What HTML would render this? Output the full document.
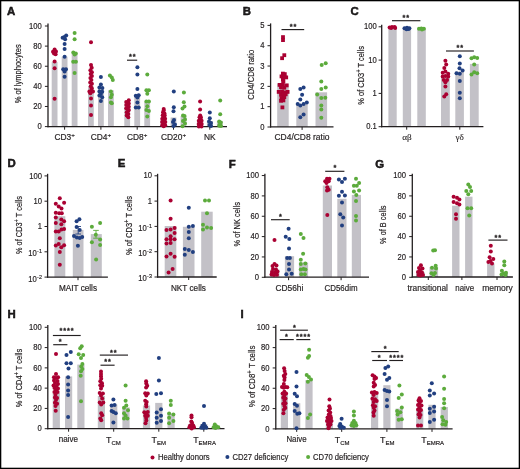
<!DOCTYPE html>
<html><head><meta charset="utf-8">
<style>
html,body{margin:0;padding:0;background:#fff;}
body{width:520px;height:469px;overflow:hidden;}
svg{display:block;will-change:transform;}
text{font-family:"Liberation Sans",sans-serif;fill:#231f20;stroke:#231f20;stroke-width:0.18px;}
</style></head>
<body>
<svg width="520" height="469" viewBox="0 0 520 469">
<rect x="0" y="0" width="520" height="469" fill="#fff"/>
<text x="7.00" y="14.90" font-size="11.4" text-anchor="start" font-weight="bold" style="stroke:#000;stroke-width:0.45px">A</text>
<line x1="48.00" y1="23.60" x2="48.00" y2="127.25" stroke="#231f20" stroke-width="1.3"/>
<line x1="44.90" y1="26.00" x2="48.00" y2="26.00" stroke="#231f20" stroke-width="1.0"/>
<text x="41.80" y="28.63" font-size="8.5" text-anchor="end" font-weight="normal" textLength="12.76" lengthAdjust="spacingAndGlyphs">100</text>
<line x1="44.90" y1="46.12" x2="48.00" y2="46.12" stroke="#231f20" stroke-width="1.0"/>
<text x="41.80" y="48.75" font-size="8.5" text-anchor="end" font-weight="normal" textLength="8.51" lengthAdjust="spacingAndGlyphs">80</text>
<line x1="44.90" y1="66.24" x2="48.00" y2="66.24" stroke="#231f20" stroke-width="1.0"/>
<text x="41.80" y="68.88" font-size="8.5" text-anchor="end" font-weight="normal" textLength="8.51" lengthAdjust="spacingAndGlyphs">60</text>
<line x1="44.90" y1="86.36" x2="48.00" y2="86.36" stroke="#231f20" stroke-width="1.0"/>
<text x="41.80" y="88.99" font-size="8.5" text-anchor="end" font-weight="normal" textLength="8.51" lengthAdjust="spacingAndGlyphs">40</text>
<line x1="44.90" y1="106.48" x2="48.00" y2="106.48" stroke="#231f20" stroke-width="1.0"/>
<text x="41.80" y="109.11" font-size="8.5" text-anchor="end" font-weight="normal" textLength="8.51" lengthAdjust="spacingAndGlyphs">20</text>
<line x1="44.90" y1="126.60" x2="48.00" y2="126.60" stroke="#231f20" stroke-width="1.0"/>
<text x="41.80" y="129.23" font-size="8.5" text-anchor="end" font-weight="normal" textLength="4.25" lengthAdjust="spacingAndGlyphs">0</text>
<text transform="translate(20.79,73.80) rotate(-90)" x="0" y="0" font-size="8.3" text-anchor="middle" textLength="59.00" lengthAdjust="spacingAndGlyphs">% of lymphocytes</text>
<rect x="51.70" y="62.00" width="5.80" height="64.70" fill="#c3c1c7"/>
<rect x="61.70" y="56.70" width="5.80" height="70.00" fill="#c3c1c7"/>
<rect x="71.70" y="53.30" width="5.80" height="73.40" fill="#c3c1c7"/>
<rect x="88.00" y="86.50" width="5.80" height="40.20" fill="#c3c1c7"/>
<rect x="98.00" y="88.00" width="5.80" height="38.70" fill="#c3c1c7"/>
<rect x="108.00" y="90.30" width="5.80" height="36.40" fill="#c3c1c7"/>
<rect x="124.30" y="107.50" width="5.80" height="19.20" fill="#c3c1c7"/>
<rect x="134.30" y="96.50" width="5.80" height="30.20" fill="#c3c1c7"/>
<rect x="144.30" y="101.50" width="5.80" height="25.20" fill="#c3c1c7"/>
<rect x="160.60" y="118.00" width="5.80" height="8.70" fill="#c3c1c7"/>
<rect x="170.60" y="117.50" width="5.80" height="9.20" fill="#c3c1c7"/>
<rect x="180.60" y="116.00" width="5.80" height="10.70" fill="#c3c1c7"/>
<rect x="196.90" y="120.50" width="5.80" height="6.20" fill="#c3c1c7"/>
<rect x="206.90" y="121.00" width="5.80" height="5.70" fill="#c3c1c7"/>
<rect x="216.90" y="121.00" width="5.80" height="5.70" fill="#c3c1c7"/>
<line x1="47.40" y1="126.70" x2="227.00" y2="126.70" stroke="#231f20" stroke-width="1.3"/>
<line x1="64.60" y1="126.70" x2="64.60" y2="129.70" stroke="#231f20" stroke-width="1.0"/>
<line x1="100.90" y1="126.70" x2="100.90" y2="129.70" stroke="#231f20" stroke-width="1.0"/>
<line x1="137.20" y1="126.70" x2="137.20" y2="129.70" stroke="#231f20" stroke-width="1.0"/>
<line x1="173.50" y1="126.70" x2="173.50" y2="129.70" stroke="#231f20" stroke-width="1.0"/>
<line x1="209.80" y1="126.70" x2="209.80" y2="129.70" stroke="#231f20" stroke-width="1.0"/>
<text x="64.60" y="140.1" font-size="8.4" text-anchor="middle">CD3<tspan dy="-3.4" font-size="6.2">+</tspan></text>
<text x="100.90" y="140.1" font-size="8.4" text-anchor="middle">CD4<tspan dy="-3.4" font-size="6.2">+</tspan></text>
<text x="137.20" y="140.1" font-size="8.4" text-anchor="middle">CD8<tspan dy="-3.4" font-size="6.2">+</tspan></text>
<text x="173.50" y="140.1" font-size="8.4" text-anchor="middle">CD20<tspan dy="-3.4" font-size="6.2">+</tspan></text>
<text x="209.80" y="140.10" font-size="8.4" text-anchor="middle" font-weight="normal">NK</text>
<line x1="127.00" y1="60.20" x2="137.20" y2="60.20" stroke="#231f20" stroke-width="1.15"/>
<text x="128.91" y="59.48" font-size="7.3" text-anchor="start" font-weight="bold" letter-spacing="0.9" style="stroke-width:0.3px">**</text>
<circle cx="54.60" cy="49.50" r="2.0" fill="#aa0132"/>
<circle cx="53.00" cy="51.80" r="2.0" fill="#aa0132"/>
<circle cx="56.00" cy="51.50" r="2.0" fill="#aa0132"/>
<circle cx="54.00" cy="53.60" r="2.0" fill="#aa0132"/>
<circle cx="55.60" cy="54.20" r="2.0" fill="#aa0132"/>
<circle cx="54.60" cy="61.60" r="2.0" fill="#aa0132"/>
<circle cx="54.60" cy="68.30" r="2.0" fill="#aa0132"/>
<circle cx="54.60" cy="98.70" r="2.0" fill="#aa0132"/>
<circle cx="66.20" cy="35.40" r="2.0" fill="#213f80"/>
<circle cx="62.60" cy="37.80" r="2.0" fill="#213f80"/>
<circle cx="65.10" cy="39.20" r="2.0" fill="#213f80"/>
<circle cx="64.40" cy="37.00" r="2.0" fill="#213f80"/>
<circle cx="64.60" cy="43.90" r="2.0" fill="#213f80"/>
<circle cx="64.60" cy="49.00" r="2.0" fill="#213f80"/>
<circle cx="64.60" cy="56.70" r="2.0" fill="#213f80"/>
<circle cx="63.20" cy="69.20" r="2.0" fill="#213f80"/>
<circle cx="66.00" cy="69.20" r="2.0" fill="#213f80"/>
<circle cx="64.60" cy="71.50" r="2.0" fill="#213f80"/>
<circle cx="64.60" cy="76.80" r="2.0" fill="#213f80"/>
<circle cx="74.60" cy="32.90" r="2.0" fill="#5cab3c"/>
<circle cx="74.60" cy="39.20" r="2.0" fill="#5cab3c"/>
<circle cx="73.30" cy="52.40" r="2.0" fill="#5cab3c"/>
<circle cx="75.80" cy="53.50" r="2.0" fill="#5cab3c"/>
<circle cx="74.60" cy="54.50" r="2.0" fill="#5cab3c"/>
<circle cx="73.20" cy="61.80" r="2.0" fill="#5cab3c"/>
<circle cx="75.90" cy="61.80" r="2.0" fill="#5cab3c"/>
<circle cx="74.60" cy="72.90" r="2.0" fill="#5cab3c"/>
<circle cx="91.00" cy="42.30" r="2.0" fill="#aa0132"/>
<circle cx="91.00" cy="65.10" r="2.0" fill="#aa0132"/>
<circle cx="91.70" cy="67.70" r="2.0" fill="#aa0132"/>
<circle cx="90.40" cy="70.30" r="2.0" fill="#aa0132"/>
<circle cx="91.90" cy="72.20" r="2.0" fill="#aa0132"/>
<circle cx="90.70" cy="74.10" r="2.0" fill="#aa0132"/>
<circle cx="91.90" cy="76.00" r="2.0" fill="#aa0132"/>
<circle cx="90.40" cy="77.90" r="2.0" fill="#aa0132"/>
<circle cx="91.40" cy="79.90" r="2.0" fill="#aa0132"/>
<circle cx="90.20" cy="82.40" r="2.0" fill="#aa0132"/>
<circle cx="91.90" cy="83.70" r="2.0" fill="#aa0132"/>
<circle cx="90.70" cy="86.30" r="2.0" fill="#aa0132"/>
<circle cx="91.70" cy="88.20" r="2.0" fill="#aa0132"/>
<circle cx="89.40" cy="91.40" r="2.0" fill="#aa0132"/>
<circle cx="91.40" cy="90.80" r="2.0" fill="#aa0132"/>
<circle cx="93.00" cy="91.40" r="2.0" fill="#aa0132"/>
<circle cx="90.40" cy="93.30" r="2.0" fill="#aa0132"/>
<circle cx="91.00" cy="98.50" r="2.0" fill="#aa0132"/>
<circle cx="91.00" cy="105.50" r="2.0" fill="#aa0132"/>
<circle cx="91.00" cy="115.10" r="2.0" fill="#aa0132"/>
<circle cx="100.90" cy="76.90" r="2.0" fill="#213f80"/>
<circle cx="100.90" cy="84.50" r="2.0" fill="#213f80"/>
<circle cx="99.40" cy="87.50" r="2.0" fill="#213f80"/>
<circle cx="102.40" cy="88.00" r="2.0" fill="#213f80"/>
<circle cx="99.40" cy="91.40" r="2.0" fill="#213f80"/>
<circle cx="102.20" cy="91.80" r="2.0" fill="#213f80"/>
<circle cx="100.90" cy="94.10" r="2.0" fill="#213f80"/>
<circle cx="99.40" cy="95.50" r="2.0" fill="#213f80"/>
<circle cx="102.20" cy="97.20" r="2.0" fill="#213f80"/>
<circle cx="100.90" cy="101.00" r="2.0" fill="#213f80"/>
<circle cx="109.90" cy="75.50" r="2.0" fill="#5cab3c"/>
<circle cx="111.80" cy="77.40" r="2.0" fill="#5cab3c"/>
<circle cx="112.80" cy="79.90" r="2.0" fill="#5cab3c"/>
<circle cx="110.90" cy="91.40" r="2.0" fill="#5cab3c"/>
<circle cx="111.80" cy="94.70" r="2.0" fill="#5cab3c"/>
<circle cx="110.90" cy="97.20" r="2.0" fill="#5cab3c"/>
<circle cx="110.90" cy="102.40" r="2.0" fill="#5cab3c"/>
<circle cx="111.80" cy="103.30" r="2.0" fill="#5cab3c"/>
<circle cx="128.80" cy="100.30" r="2.0" fill="#aa0132"/>
<circle cx="126.20" cy="101.90" r="2.0" fill="#aa0132"/>
<circle cx="128.80" cy="103.50" r="2.0" fill="#aa0132"/>
<circle cx="126.20" cy="105.10" r="2.0" fill="#aa0132"/>
<circle cx="128.80" cy="106.70" r="2.0" fill="#aa0132"/>
<circle cx="126.20" cy="108.30" r="2.0" fill="#aa0132"/>
<circle cx="128.80" cy="109.90" r="2.0" fill="#aa0132"/>
<circle cx="128.30" cy="110.50" r="2.0" fill="#aa0132"/>
<circle cx="126.70" cy="112.20" r="2.0" fill="#aa0132"/>
<circle cx="128.30" cy="113.90" r="2.0" fill="#aa0132"/>
<circle cx="126.70" cy="115.60" r="2.0" fill="#aa0132"/>
<circle cx="128.30" cy="117.30" r="2.0" fill="#aa0132"/>
<circle cx="137.40" cy="67.30" r="2.0" fill="#213f80"/>
<circle cx="137.40" cy="74.50" r="2.0" fill="#213f80"/>
<circle cx="137.40" cy="88.90" r="2.0" fill="#213f80"/>
<circle cx="135.80" cy="95.70" r="2.0" fill="#213f80"/>
<circle cx="138.70" cy="95.30" r="2.0" fill="#213f80"/>
<circle cx="137.40" cy="97.60" r="2.0" fill="#213f80"/>
<circle cx="137.40" cy="102.40" r="2.0" fill="#213f80"/>
<circle cx="135.80" cy="107.60" r="2.0" fill="#213f80"/>
<circle cx="138.70" cy="107.60" r="2.0" fill="#213f80"/>
<circle cx="147.30" cy="74.50" r="2.0" fill="#5cab3c"/>
<circle cx="146.40" cy="90.30" r="2.0" fill="#5cab3c"/>
<circle cx="148.90" cy="90.30" r="2.0" fill="#5cab3c"/>
<circle cx="147.30" cy="93.70" r="2.0" fill="#5cab3c"/>
<circle cx="146.40" cy="101.40" r="2.0" fill="#5cab3c"/>
<circle cx="148.90" cy="101.40" r="2.0" fill="#5cab3c"/>
<circle cx="147.30" cy="106.20" r="2.0" fill="#5cab3c"/>
<circle cx="146.40" cy="110.00" r="2.0" fill="#5cab3c"/>
<circle cx="148.90" cy="111.00" r="2.0" fill="#5cab3c"/>
<circle cx="147.30" cy="116.40" r="2.0" fill="#5cab3c"/>
<circle cx="163.70" cy="109.00" r="2.0" fill="#aa0132"/>
<circle cx="163.70" cy="110.60" r="2.0" fill="#aa0132"/>
<circle cx="163.00" cy="112.20" r="2.0" fill="#aa0132"/>
<circle cx="164.50" cy="113.60" r="2.0" fill="#aa0132"/>
<circle cx="162.70" cy="115.20" r="2.0" fill="#aa0132"/>
<circle cx="164.70" cy="115.50" r="2.0" fill="#aa0132"/>
<circle cx="163.70" cy="117.00" r="2.0" fill="#aa0132"/>
<circle cx="162.30" cy="118.80" r="2.0" fill="#aa0132"/>
<circle cx="165.10" cy="118.80" r="2.0" fill="#aa0132"/>
<circle cx="163.70" cy="120.30" r="2.0" fill="#aa0132"/>
<circle cx="162.10" cy="122.00" r="2.0" fill="#aa0132"/>
<circle cx="165.30" cy="122.00" r="2.0" fill="#aa0132"/>
<circle cx="163.70" cy="123.50" r="2.0" fill="#aa0132"/>
<circle cx="162.20" cy="125.20" r="2.0" fill="#aa0132"/>
<circle cx="165.20" cy="125.20" r="2.0" fill="#aa0132"/>
<circle cx="163.70" cy="126.30" r="2.0" fill="#aa0132"/>
<circle cx="173.80" cy="91.50" r="2.0" fill="#213f80"/>
<circle cx="173.80" cy="107.20" r="2.0" fill="#213f80"/>
<circle cx="173.50" cy="111.20" r="2.0" fill="#213f80"/>
<circle cx="174.00" cy="120.00" r="2.0" fill="#213f80"/>
<circle cx="173.00" cy="122.00" r="2.0" fill="#213f80"/>
<circle cx="175.00" cy="124.50" r="2.0" fill="#213f80"/>
<circle cx="173.50" cy="126.00" r="2.0" fill="#213f80"/>
<circle cx="183.90" cy="92.50" r="2.0" fill="#5cab3c"/>
<circle cx="183.80" cy="102.20" r="2.0" fill="#5cab3c"/>
<circle cx="184.50" cy="106.50" r="2.0" fill="#5cab3c"/>
<circle cx="182.50" cy="108.50" r="2.0" fill="#5cab3c"/>
<circle cx="183.00" cy="115.50" r="2.0" fill="#5cab3c"/>
<circle cx="184.50" cy="116.00" r="2.0" fill="#5cab3c"/>
<circle cx="185.00" cy="119.50" r="2.0" fill="#5cab3c"/>
<circle cx="183.00" cy="121.00" r="2.0" fill="#5cab3c"/>
<circle cx="185.00" cy="123.50" r="2.0" fill="#5cab3c"/>
<circle cx="182.50" cy="126.30" r="2.0" fill="#5cab3c"/>
<circle cx="200.10" cy="101.50" r="2.0" fill="#aa0132"/>
<circle cx="200.10" cy="109.60" r="2.0" fill="#aa0132"/>
<circle cx="200.20" cy="115.60" r="2.0" fill="#aa0132"/>
<circle cx="199.50" cy="117.20" r="2.0" fill="#aa0132"/>
<circle cx="201.00" cy="117.60" r="2.0" fill="#aa0132"/>
<circle cx="200.20" cy="119.10" r="2.0" fill="#aa0132"/>
<circle cx="198.80" cy="120.70" r="2.0" fill="#aa0132"/>
<circle cx="201.60" cy="120.70" r="2.0" fill="#aa0132"/>
<circle cx="200.20" cy="122.30" r="2.0" fill="#aa0132"/>
<circle cx="198.70" cy="124.00" r="2.0" fill="#aa0132"/>
<circle cx="201.70" cy="124.00" r="2.0" fill="#aa0132"/>
<circle cx="200.20" cy="125.30" r="2.0" fill="#aa0132"/>
<circle cx="198.90" cy="126.40" r="2.0" fill="#aa0132"/>
<circle cx="201.50" cy="126.40" r="2.0" fill="#aa0132"/>
<circle cx="209.80" cy="112.40" r="2.0" fill="#213f80"/>
<circle cx="209.80" cy="118.20" r="2.0" fill="#213f80"/>
<circle cx="209.00" cy="121.50" r="2.0" fill="#213f80"/>
<circle cx="211.00" cy="123.00" r="2.0" fill="#213f80"/>
<circle cx="209.50" cy="125.00" r="2.0" fill="#213f80"/>
<circle cx="211.00" cy="126.00" r="2.0" fill="#213f80"/>
<circle cx="220.20" cy="100.60" r="2.0" fill="#5cab3c"/>
<circle cx="220.20" cy="114.30" r="2.0" fill="#5cab3c"/>
<circle cx="219.20" cy="121.40" r="2.0" fill="#5cab3c"/>
<circle cx="220.80" cy="122.60" r="2.0" fill="#5cab3c"/>
<circle cx="219.90" cy="124.20" r="2.0" fill="#5cab3c"/>
<circle cx="219.20" cy="125.70" r="2.0" fill="#5cab3c"/>
<circle cx="221.00" cy="126.00" r="2.0" fill="#5cab3c"/>
<text x="242.70" y="14.90" font-size="11.4" text-anchor="start" font-weight="bold" style="stroke:#000;stroke-width:0.45px">B</text>
<line x1="270.60" y1="23.40" x2="270.60" y2="127.45" stroke="#231f20" stroke-width="1.3"/>
<line x1="267.50" y1="25.40" x2="270.60" y2="25.40" stroke="#231f20" stroke-width="1.0"/>
<text x="264.60" y="28.04" font-size="8.5" text-anchor="end" font-weight="normal" textLength="4.25" lengthAdjust="spacingAndGlyphs">5</text>
<line x1="267.50" y1="45.72" x2="270.60" y2="45.72" stroke="#231f20" stroke-width="1.0"/>
<text x="264.60" y="48.35" font-size="8.5" text-anchor="end" font-weight="normal" textLength="4.25" lengthAdjust="spacingAndGlyphs">4</text>
<line x1="267.50" y1="66.04" x2="270.60" y2="66.04" stroke="#231f20" stroke-width="1.0"/>
<text x="264.60" y="68.67" font-size="8.5" text-anchor="end" font-weight="normal" textLength="4.25" lengthAdjust="spacingAndGlyphs">3</text>
<line x1="267.50" y1="86.36" x2="270.60" y2="86.36" stroke="#231f20" stroke-width="1.0"/>
<text x="264.60" y="89.00" font-size="8.5" text-anchor="end" font-weight="normal" textLength="4.25" lengthAdjust="spacingAndGlyphs">2</text>
<line x1="267.50" y1="106.68" x2="270.60" y2="106.68" stroke="#231f20" stroke-width="1.0"/>
<text x="264.60" y="109.32" font-size="8.5" text-anchor="end" font-weight="normal" textLength="4.25" lengthAdjust="spacingAndGlyphs">1</text>
<line x1="267.50" y1="127.00" x2="270.60" y2="127.00" stroke="#231f20" stroke-width="1.0"/>
<text x="264.60" y="129.63" font-size="8.5" text-anchor="end" font-weight="normal" textLength="4.25" lengthAdjust="spacingAndGlyphs">0</text>
<text transform="translate(253.99,74.80) rotate(-90)" x="0" y="0" font-size="8.3" text-anchor="middle" textLength="50.00" lengthAdjust="spacingAndGlyphs">CD4/CD8 ratio</text>
<rect x="277.20" y="83.60" width="11.50" height="43.30" fill="#c3c1c7"/>
<rect x="296.30" y="104.10" width="11.40" height="22.80" fill="#c3c1c7"/>
<rect x="315.50" y="92.30" width="11.60" height="34.60" fill="#c3c1c7"/>
<line x1="270.00" y1="126.90" x2="333.50" y2="126.90" stroke="#231f20" stroke-width="1.3"/>
<line x1="302.10" y1="126.90" x2="302.10" y2="129.90" stroke="#231f20" stroke-width="1.0"/>
<text x="302.00" y="140.30" font-size="8.4" text-anchor="middle" font-weight="normal" textLength="55.00" lengthAdjust="spacingAndGlyphs">CD4/CD8 ratio</text>
<line x1="281.50" y1="29.60" x2="304.20" y2="29.60" stroke="#231f20" stroke-width="1.15"/>
<text x="289.71" y="28.78" font-size="7.3" text-anchor="start" font-weight="bold" letter-spacing="0.9" style="stroke-width:0.3px">**</text>
<rect x="281.10" y="35.20" width="3.8" height="3.8" fill="#aa0132"/>
<rect x="281.10" y="38.20" width="3.8" height="3.8" fill="#aa0132"/>
<rect x="282.40" y="53.30" width="3.8" height="3.8" fill="#aa0132"/>
<rect x="280.20" y="56.30" width="3.8" height="3.8" fill="#aa0132"/>
<rect x="281.00" y="71.70" width="3.8" height="3.8" fill="#aa0132"/>
<rect x="282.90" y="72.20" width="3.8" height="3.8" fill="#aa0132"/>
<rect x="279.60" y="74.50" width="3.8" height="3.8" fill="#aa0132"/>
<rect x="282.40" y="75.00" width="3.8" height="3.8" fill="#aa0132"/>
<rect x="284.30" y="75.50" width="3.8" height="3.8" fill="#aa0132"/>
<rect x="281.00" y="77.80" width="3.8" height="3.8" fill="#aa0132"/>
<rect x="281.50" y="79.20" width="3.8" height="3.8" fill="#aa0132"/>
<rect x="277.70" y="83.00" width="3.8" height="3.8" fill="#aa0132"/>
<rect x="281.00" y="82.50" width="3.8" height="3.8" fill="#aa0132"/>
<rect x="284.80" y="83.50" width="3.8" height="3.8" fill="#aa0132"/>
<rect x="279.10" y="85.30" width="3.8" height="3.8" fill="#aa0132"/>
<rect x="282.40" y="85.80" width="3.8" height="3.8" fill="#aa0132"/>
<rect x="276.80" y="90.00" width="3.8" height="3.8" fill="#aa0132"/>
<rect x="280.10" y="89.60" width="3.8" height="3.8" fill="#aa0132"/>
<rect x="282.40" y="90.50" width="3.8" height="3.8" fill="#aa0132"/>
<rect x="285.70" y="90.00" width="3.8" height="3.8" fill="#aa0132"/>
<rect x="279.10" y="92.80" width="3.8" height="3.8" fill="#aa0132"/>
<rect x="281.50" y="93.30" width="3.8" height="3.8" fill="#aa0132"/>
<rect x="283.80" y="92.40" width="3.8" height="3.8" fill="#aa0132"/>
<rect x="279.60" y="96.10" width="3.8" height="3.8" fill="#aa0132"/>
<rect x="282.40" y="95.20" width="3.8" height="3.8" fill="#aa0132"/>
<rect x="279.10" y="98.90" width="3.8" height="3.8" fill="#aa0132"/>
<rect x="281.50" y="98.50" width="3.8" height="3.8" fill="#aa0132"/>
<rect x="280.50" y="105.50" width="3.8" height="3.8" fill="#aa0132"/>
<circle cx="303.60" cy="87.60" r="2.0" fill="#213f80"/>
<circle cx="300.30" cy="89.00" r="2.0" fill="#213f80"/>
<circle cx="302.10" cy="94.80" r="2.0" fill="#213f80"/>
<circle cx="300.30" cy="99.60" r="2.0" fill="#213f80"/>
<circle cx="297.70" cy="104.10" r="2.0" fill="#213f80"/>
<circle cx="303.60" cy="104.10" r="2.0" fill="#213f80"/>
<circle cx="306.80" cy="102.60" r="2.0" fill="#213f80"/>
<circle cx="300.30" cy="105.40" r="2.0" fill="#213f80"/>
<circle cx="303.60" cy="114.40" r="2.0" fill="#213f80"/>
<circle cx="300.30" cy="117.20" r="2.0" fill="#213f80"/>
<circle cx="321.70" cy="65.10" r="2.0" fill="#5cab3c"/>
<circle cx="325.70" cy="63.30" r="2.0" fill="#5cab3c"/>
<circle cx="321.30" cy="81.40" r="2.0" fill="#5cab3c"/>
<circle cx="321.30" cy="89.00" r="2.0" fill="#5cab3c"/>
<circle cx="325.70" cy="87.60" r="2.0" fill="#5cab3c"/>
<circle cx="317.20" cy="94.50" r="2.0" fill="#5cab3c"/>
<circle cx="321.30" cy="98.10" r="2.0" fill="#5cab3c"/>
<circle cx="325.30" cy="97.70" r="2.0" fill="#5cab3c"/>
<circle cx="321.30" cy="105.40" r="2.0" fill="#5cab3c"/>
<circle cx="321.30" cy="109.40" r="2.0" fill="#5cab3c"/>
<circle cx="321.30" cy="117.70" r="2.0" fill="#5cab3c"/>
<text x="350.60" y="15.20" font-size="11.4" text-anchor="start" font-weight="bold" style="stroke:#000;stroke-width:0.45px">C</text>
<line x1="381.70" y1="24.80" x2="381.70" y2="127.25" stroke="#231f20" stroke-width="1.3"/>
<line x1="378.60" y1="26.80" x2="381.70" y2="26.80" stroke="#231f20" stroke-width="1.0"/>
<text x="376.80" y="29.44" font-size="8.5" text-anchor="end" font-weight="normal" textLength="12.76" lengthAdjust="spacingAndGlyphs">100</text>
<line x1="378.60" y1="60.10" x2="381.70" y2="60.10" stroke="#231f20" stroke-width="1.0"/>
<text x="376.80" y="62.74" font-size="8.5" text-anchor="end" font-weight="normal" textLength="8.51" lengthAdjust="spacingAndGlyphs">10</text>
<line x1="378.60" y1="93.40" x2="381.70" y2="93.40" stroke="#231f20" stroke-width="1.0"/>
<text x="376.80" y="96.04" font-size="8.5" text-anchor="end" font-weight="normal" textLength="4.25" lengthAdjust="spacingAndGlyphs">1</text>
<line x1="378.60" y1="126.70" x2="381.70" y2="126.70" stroke="#231f20" stroke-width="1.0"/>
<text x="376.80" y="129.34" font-size="8.5" text-anchor="end" font-weight="normal" textLength="10.63" lengthAdjust="spacingAndGlyphs">0.1</text>
<text transform="translate(363.59,75.40) rotate(-90)" x="0" y="0" font-size="8.3" text-anchor="middle" textLength="58.60" lengthAdjust="spacingAndGlyphs">% of CD3<tspan dy='-3' font-size='6.4'>+</tspan><tspan dy='3'> T cells</tspan></text>
<rect x="388.40" y="27.70" width="8.30" height="99.00" fill="#c3c1c7"/>
<rect x="402.80" y="28.20" width="8.30" height="98.50" fill="#c3c1c7"/>
<rect x="417.30" y="29.00" width="8.50" height="97.70" fill="#c3c1c7"/>
<rect x="441.00" y="77.00" width="8.80" height="49.70" fill="#c3c1c7"/>
<rect x="455.30" y="71.60" width="8.60" height="55.10" fill="#c3c1c7"/>
<rect x="469.90" y="63.90" width="8.80" height="62.80" fill="#c3c1c7"/>
<line x1="381.10" y1="126.70" x2="483.40" y2="126.70" stroke="#231f20" stroke-width="1.3"/>
<line x1="406.70" y1="126.70" x2="406.70" y2="129.70" stroke="#231f20" stroke-width="1.0"/>
<line x1="459.80" y1="126.70" x2="459.80" y2="129.70" stroke="#231f20" stroke-width="1.0"/>
<text x="406.90" y="140.20" font-size="9.2" text-anchor="middle" font-weight="normal" style="font-family:Liberation Serif,serif;stroke-width:0.1px">αβ</text>
<text x="459.60" y="140.20" font-size="9.2" text-anchor="middle" font-weight="normal" style="font-family:Liberation Serif,serif;stroke-width:0.1px">γδ</text>
<line x1="392.00" y1="20.70" x2="420.40" y2="20.70" stroke="#231f20" stroke-width="1.15"/>
<text x="402.41" y="20.18" font-size="7.3" text-anchor="start" font-weight="bold" letter-spacing="0.9" style="stroke-width:0.3px">**</text>
<line x1="446.00" y1="51.00" x2="473.90" y2="51.00" stroke="#231f20" stroke-width="1.15"/>
<text x="456.61" y="50.48" font-size="7.3" text-anchor="start" font-weight="bold" letter-spacing="0.9" style="stroke-width:0.3px">**</text>
<circle cx="389.60" cy="27.60" r="2.0" fill="#aa0132"/>
<circle cx="392.00" cy="27.00" r="2.0" fill="#aa0132"/>
<circle cx="394.60" cy="27.00" r="2.0" fill="#aa0132"/>
<circle cx="395.20" cy="27.90" r="2.0" fill="#aa0132"/>
<circle cx="391.20" cy="28.10" r="2.0" fill="#aa0132"/>
<circle cx="404.50" cy="28.20" r="2.0" fill="#213f80"/>
<circle cx="407.00" cy="27.70" r="2.0" fill="#213f80"/>
<circle cx="409.40" cy="28.30" r="2.0" fill="#213f80"/>
<circle cx="406.50" cy="29.30" r="2.0" fill="#213f80"/>
<circle cx="408.60" cy="28.90" r="2.0" fill="#213f80"/>
<circle cx="419.00" cy="28.80" r="2.0" fill="#5cab3c"/>
<circle cx="421.40" cy="28.50" r="2.0" fill="#5cab3c"/>
<circle cx="423.90" cy="28.80" r="2.0" fill="#5cab3c"/>
<circle cx="422.00" cy="29.40" r="2.0" fill="#5cab3c"/>
<circle cx="445.40" cy="60.80" r="2.0" fill="#aa0132"/>
<circle cx="446.20" cy="64.60" r="2.0" fill="#aa0132"/>
<circle cx="444.30" cy="68.00" r="2.0" fill="#aa0132"/>
<circle cx="442.70" cy="72.70" r="2.0" fill="#aa0132"/>
<circle cx="445.40" cy="71.60" r="2.0" fill="#aa0132"/>
<circle cx="448.20" cy="73.80" r="2.0" fill="#aa0132"/>
<circle cx="442.70" cy="76.60" r="2.0" fill="#aa0132"/>
<circle cx="445.40" cy="76.00" r="2.0" fill="#aa0132"/>
<circle cx="448.20" cy="76.60" r="2.0" fill="#aa0132"/>
<circle cx="443.80" cy="79.90" r="2.0" fill="#aa0132"/>
<circle cx="447.10" cy="79.90" r="2.0" fill="#aa0132"/>
<circle cx="445.40" cy="82.20" r="2.0" fill="#aa0132"/>
<circle cx="445.40" cy="86.60" r="2.0" fill="#aa0132"/>
<circle cx="446.20" cy="94.30" r="2.0" fill="#aa0132"/>
<circle cx="444.30" cy="96.60" r="2.0" fill="#aa0132"/>
<circle cx="459.80" cy="56.30" r="2.0" fill="#213f80"/>
<circle cx="459.80" cy="63.50" r="2.0" fill="#213f80"/>
<circle cx="459.50" cy="68.30" r="2.0" fill="#213f80"/>
<circle cx="462.60" cy="70.50" r="2.0" fill="#213f80"/>
<circle cx="456.50" cy="73.30" r="2.0" fill="#213f80"/>
<circle cx="459.80" cy="73.80" r="2.0" fill="#213f80"/>
<circle cx="459.80" cy="81.00" r="2.0" fill="#213f80"/>
<circle cx="459.80" cy="92.70" r="2.0" fill="#213f80"/>
<circle cx="459.80" cy="98.20" r="2.0" fill="#213f80"/>
<circle cx="471.50" cy="58.30" r="2.0" fill="#5cab3c"/>
<circle cx="474.20" cy="57.20" r="2.0" fill="#5cab3c"/>
<circle cx="477.20" cy="58.00" r="2.0" fill="#5cab3c"/>
<circle cx="474.20" cy="64.40" r="2.0" fill="#5cab3c"/>
<circle cx="471.50" cy="74.60" r="2.0" fill="#5cab3c"/>
<circle cx="474.20" cy="72.20" r="2.0" fill="#5cab3c"/>
<circle cx="477.20" cy="73.30" r="2.0" fill="#5cab3c"/>
<text x="7.45" y="167.30" font-size="11.4" text-anchor="start" font-weight="bold" style="stroke:#000;stroke-width:0.45px">D</text>
<line x1="47.60" y1="173.80" x2="47.60" y2="277.75" stroke="#231f20" stroke-width="1.3"/>
<line x1="44.50" y1="175.90" x2="47.60" y2="175.90" stroke="#231f20" stroke-width="1.0"/>
<text x="41.90" y="178.54" font-size="8.5" text-anchor="end" font-weight="normal" textLength="12.76" lengthAdjust="spacingAndGlyphs">100</text>
<line x1="44.50" y1="201.20" x2="47.60" y2="201.20" stroke="#231f20" stroke-width="1.0"/>
<text x="41.90" y="203.84" font-size="8.5" text-anchor="end" font-weight="normal" textLength="8.51" lengthAdjust="spacingAndGlyphs">10</text>
<line x1="44.50" y1="226.50" x2="47.60" y2="226.50" stroke="#231f20" stroke-width="1.0"/>
<text x="41.90" y="229.14" font-size="8.5" text-anchor="end" font-weight="normal" textLength="4.25" lengthAdjust="spacingAndGlyphs">1</text>
<line x1="44.50" y1="251.80" x2="47.60" y2="251.80" stroke="#231f20" stroke-width="1.0"/>
<text x="36.80" y="256.24" font-size="8.5" text-anchor="end" textLength="8.51" lengthAdjust="spacingAndGlyphs">10</text>
<text x="37.10" y="253.24" font-size="6.0" textLength="4.80" lengthAdjust="spacingAndGlyphs">-1</text>
<line x1="44.50" y1="277.10" x2="47.60" y2="277.10" stroke="#231f20" stroke-width="1.0"/>
<text x="36.80" y="281.54" font-size="8.5" text-anchor="end" textLength="8.51" lengthAdjust="spacingAndGlyphs">10</text>
<text x="37.10" y="278.54" font-size="6.0" textLength="4.80" lengthAdjust="spacingAndGlyphs">-2</text>
<text transform="translate(21.69,225.00) rotate(-90)" x="0" y="0" font-size="8.3" text-anchor="middle" textLength="58.00" lengthAdjust="spacingAndGlyphs">% of CD3<tspan dy='-3' font-size='6.4'>+</tspan><tspan dy='3'> T cells</tspan></text>
<rect x="54.40" y="216.20" width="10.90" height="61.00" fill="#c3c1c7"/>
<rect x="72.80" y="229.90" width="10.70" height="47.30" fill="#c3c1c7"/>
<rect x="90.80" y="234.10" width="11.00" height="43.10" fill="#c3c1c7"/>
<line x1="47.00" y1="277.20" x2="107.90" y2="277.20" stroke="#231f20" stroke-width="1.3"/>
<line x1="78.00" y1="277.20" x2="78.00" y2="280.20" stroke="#231f20" stroke-width="1.0"/>
<text x="78.00" y="290.60" font-size="8.4" text-anchor="middle" font-weight="normal" textLength="38.00" lengthAdjust="spacingAndGlyphs">MAIT cells</text>
<circle cx="59.80" cy="198.30" r="2.0" fill="#aa0132"/>
<circle cx="64.10" cy="202.80" r="2.0" fill="#aa0132"/>
<circle cx="55.80" cy="203.80" r="2.0" fill="#aa0132"/>
<circle cx="58.70" cy="206.40" r="2.0" fill="#aa0132"/>
<circle cx="61.50" cy="208.50" r="2.0" fill="#aa0132"/>
<circle cx="55.80" cy="212.80" r="2.0" fill="#aa0132"/>
<circle cx="59.20" cy="213.30" r="2.0" fill="#aa0132"/>
<circle cx="61.80" cy="213.30" r="2.0" fill="#aa0132"/>
<circle cx="55.80" cy="217.50" r="2.0" fill="#aa0132"/>
<circle cx="61.30" cy="219.40" r="2.0" fill="#aa0132"/>
<circle cx="64.10" cy="221.30" r="2.0" fill="#aa0132"/>
<circle cx="55.80" cy="223.00" r="2.0" fill="#aa0132"/>
<circle cx="61.30" cy="224.30" r="2.0" fill="#aa0132"/>
<circle cx="64.10" cy="229.00" r="2.0" fill="#aa0132"/>
<circle cx="61.50" cy="229.60" r="2.0" fill="#aa0132"/>
<circle cx="55.80" cy="231.60" r="2.0" fill="#aa0132"/>
<circle cx="58.70" cy="231.60" r="2.0" fill="#aa0132"/>
<circle cx="59.80" cy="238.30" r="2.0" fill="#aa0132"/>
<circle cx="55.80" cy="245.50" r="2.0" fill="#aa0132"/>
<circle cx="58.70" cy="244.00" r="2.0" fill="#aa0132"/>
<circle cx="61.30" cy="247.20" r="2.0" fill="#aa0132"/>
<circle cx="64.10" cy="245.20" r="2.0" fill="#aa0132"/>
<circle cx="59.80" cy="252.10" r="2.0" fill="#aa0132"/>
<circle cx="59.80" cy="264.80" r="2.0" fill="#aa0132"/>
<line x1="78.20" y1="226.50" x2="78.20" y2="234.00" stroke="#213f80" stroke-width="0.9"/>
<line x1="75.40" y1="226.50" x2="81.00" y2="226.50" stroke="#213f80" stroke-width="0.9"/>
<line x1="75.40" y1="234.00" x2="81.00" y2="234.00" stroke="#213f80" stroke-width="0.9"/>
<circle cx="79.40" cy="219.20" r="2.0" fill="#213f80"/>
<circle cx="76.60" cy="221.30" r="2.0" fill="#213f80"/>
<circle cx="76.60" cy="227.10" r="2.0" fill="#213f80"/>
<circle cx="79.70" cy="229.90" r="2.0" fill="#213f80"/>
<circle cx="74.00" cy="236.00" r="2.0" fill="#213f80"/>
<circle cx="76.90" cy="237.60" r="2.0" fill="#213f80"/>
<circle cx="79.70" cy="238.00" r="2.0" fill="#213f80"/>
<circle cx="82.20" cy="237.10" r="2.0" fill="#213f80"/>
<circle cx="77.90" cy="245.70" r="2.0" fill="#213f80"/>
<line x1="96.00" y1="230.40" x2="96.00" y2="238.20" stroke="#5cab3c" stroke-width="0.9"/>
<line x1="93.20" y1="230.40" x2="98.80" y2="230.40" stroke="#5cab3c" stroke-width="0.9"/>
<line x1="93.20" y1="238.20" x2="98.80" y2="238.20" stroke="#5cab3c" stroke-width="0.9"/>
<circle cx="100.10" cy="223.00" r="2.0" fill="#5cab3c"/>
<circle cx="91.90" cy="226.80" r="2.0" fill="#5cab3c"/>
<circle cx="95.80" cy="234.80" r="2.0" fill="#5cab3c"/>
<circle cx="100.10" cy="239.60" r="2.0" fill="#5cab3c"/>
<circle cx="91.90" cy="242.20" r="2.0" fill="#5cab3c"/>
<circle cx="100.10" cy="245.00" r="2.0" fill="#5cab3c"/>
<circle cx="96.10" cy="259.60" r="2.0" fill="#5cab3c"/>
<text x="117.70" y="167.30" font-size="11.4" text-anchor="start" font-weight="bold" style="stroke:#000;stroke-width:0.45px">E</text>
<line x1="157.60" y1="173.80" x2="157.60" y2="277.55" stroke="#231f20" stroke-width="1.3"/>
<line x1="154.50" y1="175.80" x2="157.60" y2="175.80" stroke="#231f20" stroke-width="1.0"/>
<text x="151.90" y="178.44" font-size="8.5" text-anchor="end" font-weight="normal" textLength="8.51" lengthAdjust="spacingAndGlyphs">10</text>
<line x1="154.50" y1="201.10" x2="157.60" y2="201.10" stroke="#231f20" stroke-width="1.0"/>
<text x="151.90" y="203.73" font-size="8.5" text-anchor="end" font-weight="normal" textLength="4.25" lengthAdjust="spacingAndGlyphs">1</text>
<line x1="154.50" y1="226.40" x2="157.60" y2="226.40" stroke="#231f20" stroke-width="1.0"/>
<text x="146.80" y="230.84" font-size="8.5" text-anchor="end" textLength="8.51" lengthAdjust="spacingAndGlyphs">10</text>
<text x="147.10" y="227.84" font-size="6.0" textLength="4.80" lengthAdjust="spacingAndGlyphs">-1</text>
<line x1="154.50" y1="251.70" x2="157.60" y2="251.70" stroke="#231f20" stroke-width="1.0"/>
<text x="146.80" y="256.13" font-size="8.5" text-anchor="end" textLength="8.51" lengthAdjust="spacingAndGlyphs">10</text>
<text x="147.10" y="253.13" font-size="6.0" textLength="4.80" lengthAdjust="spacingAndGlyphs">-2</text>
<line x1="154.50" y1="277.00" x2="157.60" y2="277.00" stroke="#231f20" stroke-width="1.0"/>
<text x="146.80" y="281.44" font-size="8.5" text-anchor="end" textLength="8.51" lengthAdjust="spacingAndGlyphs">10</text>
<text x="147.10" y="278.44" font-size="6.0" textLength="4.80" lengthAdjust="spacingAndGlyphs">-3</text>
<text transform="translate(131.59,225.50) rotate(-90)" x="0" y="0" font-size="8.3" text-anchor="middle" textLength="59.00" lengthAdjust="spacingAndGlyphs">% of CD3<tspan dy='-3' font-size='6.4'>+</tspan><tspan dy='3'> T cells</tspan></text>
<rect x="164.70" y="226.00" width="11.60" height="51.00" fill="#c3c1c7"/>
<rect x="182.90" y="226.80" width="11.60" height="50.20" fill="#c3c1c7"/>
<rect x="201.20" y="211.70" width="11.50" height="65.30" fill="#c3c1c7"/>
<line x1="157.00" y1="277.00" x2="216.70" y2="277.00" stroke="#231f20" stroke-width="1.3"/>
<line x1="188.70" y1="277.00" x2="188.70" y2="280.00" stroke="#231f20" stroke-width="1.0"/>
<text x="188.40" y="290.70" font-size="8.4" text-anchor="middle" font-weight="normal" textLength="35.00" lengthAdjust="spacingAndGlyphs">NKT cells</text>
<circle cx="170.60" cy="200.50" r="2.0" fill="#aa0132"/>
<circle cx="170.60" cy="218.70" r="2.0" fill="#aa0132"/>
<circle cx="166.50" cy="229.90" r="2.0" fill="#aa0132"/>
<circle cx="170.60" cy="229.50" r="2.0" fill="#aa0132"/>
<circle cx="174.60" cy="227.90" r="2.0" fill="#aa0132"/>
<circle cx="174.60" cy="232.90" r="2.0" fill="#aa0132"/>
<circle cx="170.60" cy="236.20" r="2.0" fill="#aa0132"/>
<circle cx="166.50" cy="239.20" r="2.0" fill="#aa0132"/>
<circle cx="170.60" cy="239.20" r="2.0" fill="#aa0132"/>
<circle cx="174.60" cy="239.20" r="2.0" fill="#aa0132"/>
<circle cx="166.50" cy="243.60" r="2.0" fill="#aa0132"/>
<circle cx="170.60" cy="243.00" r="2.0" fill="#aa0132"/>
<circle cx="166.50" cy="256.40" r="2.0" fill="#aa0132"/>
<circle cx="170.60" cy="253.80" r="2.0" fill="#aa0132"/>
<circle cx="174.60" cy="256.80" r="2.0" fill="#aa0132"/>
<circle cx="172.60" cy="269.00" r="2.0" fill="#aa0132"/>
<circle cx="168.60" cy="272.60" r="2.0" fill="#aa0132"/>
<circle cx="188.80" cy="207.80" r="2.0" fill="#213f80"/>
<circle cx="188.80" cy="226.80" r="2.0" fill="#213f80"/>
<circle cx="192.90" cy="226.00" r="2.0" fill="#213f80"/>
<circle cx="188.80" cy="232.10" r="2.0" fill="#213f80"/>
<circle cx="188.80" cy="238.20" r="2.0" fill="#213f80"/>
<circle cx="184.80" cy="249.10" r="2.0" fill="#213f80"/>
<circle cx="188.80" cy="250.10" r="2.0" fill="#213f80"/>
<circle cx="192.90" cy="252.10" r="2.0" fill="#213f80"/>
<circle cx="184.80" cy="254.80" r="2.0" fill="#213f80"/>
<circle cx="205.00" cy="200.50" r="2.0" fill="#5cab3c"/>
<circle cx="209.00" cy="200.50" r="2.0" fill="#5cab3c"/>
<circle cx="207.00" cy="213.30" r="2.0" fill="#5cab3c"/>
<circle cx="203.00" cy="224.80" r="2.0" fill="#5cab3c"/>
<circle cx="207.00" cy="227.40" r="2.0" fill="#5cab3c"/>
<circle cx="211.10" cy="228.10" r="2.0" fill="#5cab3c"/>
<circle cx="203.00" cy="229.50" r="2.0" fill="#5cab3c"/>
<text x="228.70" y="167.50" font-size="11.4" text-anchor="start" font-weight="bold" style="stroke:#000;stroke-width:0.45px">F</text>
<line x1="264.90" y1="173.80" x2="264.90" y2="277.75" stroke="#231f20" stroke-width="1.3"/>
<line x1="261.80" y1="175.55" x2="264.90" y2="175.55" stroke="#231f20" stroke-width="1.0"/>
<text x="258.90" y="178.19" font-size="8.5" text-anchor="end" font-weight="normal" textLength="12.76" lengthAdjust="spacingAndGlyphs">100</text>
<line x1="261.80" y1="195.90" x2="264.90" y2="195.90" stroke="#231f20" stroke-width="1.0"/>
<text x="258.90" y="198.53" font-size="8.5" text-anchor="end" font-weight="normal" textLength="8.51" lengthAdjust="spacingAndGlyphs">80</text>
<line x1="261.80" y1="216.25" x2="264.90" y2="216.25" stroke="#231f20" stroke-width="1.0"/>
<text x="258.90" y="218.88" font-size="8.5" text-anchor="end" font-weight="normal" textLength="8.51" lengthAdjust="spacingAndGlyphs">60</text>
<line x1="261.80" y1="236.60" x2="264.90" y2="236.60" stroke="#231f20" stroke-width="1.0"/>
<text x="258.90" y="239.24" font-size="8.5" text-anchor="end" font-weight="normal" textLength="8.51" lengthAdjust="spacingAndGlyphs">40</text>
<line x1="261.80" y1="256.95" x2="264.90" y2="256.95" stroke="#231f20" stroke-width="1.0"/>
<text x="258.90" y="259.58" font-size="8.5" text-anchor="end" font-weight="normal" textLength="8.51" lengthAdjust="spacingAndGlyphs">20</text>
<line x1="261.80" y1="277.30" x2="264.90" y2="277.30" stroke="#231f20" stroke-width="1.0"/>
<text x="258.90" y="279.94" font-size="8.5" text-anchor="end" font-weight="normal" textLength="4.25" lengthAdjust="spacingAndGlyphs">0</text>
<text transform="translate(239.69,224.30) rotate(-90)" x="0" y="0" font-size="8.3" text-anchor="middle" textLength="44.30" lengthAdjust="spacingAndGlyphs">% of NK cells</text>
<rect x="270.20" y="269.50" width="9.20" height="7.70" fill="#c3c1c7"/>
<rect x="284.90" y="256.20" width="9.20" height="21.00" fill="#c3c1c7"/>
<rect x="298.90" y="262.50" width="9.20" height="14.70" fill="#c3c1c7"/>
<rect x="322.80" y="185.50" width="9.20" height="91.70" fill="#c3c1c7"/>
<rect x="337.30" y="198.80" width="9.20" height="78.40" fill="#c3c1c7"/>
<rect x="351.80" y="194.90" width="9.20" height="82.30" fill="#c3c1c7"/>
<line x1="264.30" y1="277.20" x2="369.00" y2="277.20" stroke="#231f20" stroke-width="1.3"/>
<line x1="288.60" y1="277.20" x2="288.60" y2="280.20" stroke="#231f20" stroke-width="1.0"/>
<line x1="341.10" y1="277.20" x2="341.10" y2="280.20" stroke="#231f20" stroke-width="1.0"/>
<text x="289.40" y="290.60" font-size="8.4" text-anchor="middle" font-weight="normal" textLength="28.00" lengthAdjust="spacingAndGlyphs">CD56hi</text>
<text x="341.00" y="290.60" font-size="8.4" text-anchor="middle" font-weight="normal" textLength="33.00" lengthAdjust="spacingAndGlyphs">CD56dim</text>
<line x1="271.00" y1="219.70" x2="289.70" y2="219.70" stroke="#231f20" stroke-width="1.15"/>
<text x="278.98" y="218.68" font-size="7.3" text-anchor="start" font-weight="bold" letter-spacing="0.9" style="stroke-width:0.3px">*</text>
<line x1="325.20" y1="171.30" x2="344.40" y2="171.30" stroke="#231f20" stroke-width="1.15"/>
<text x="333.58" y="170.48" font-size="7.3" text-anchor="start" font-weight="bold" letter-spacing="0.9" style="stroke-width:0.3px">*</text>
<circle cx="274.50" cy="239.90" r="2.0" fill="#aa0132"/>
<circle cx="274.50" cy="264.00" r="2.0" fill="#aa0132"/>
<circle cx="272.50" cy="266.00" r="2.0" fill="#aa0132"/>
<circle cx="276.50" cy="265.50" r="2.0" fill="#aa0132"/>
<circle cx="273.00" cy="269.00" r="2.0" fill="#aa0132"/>
<circle cx="276.00" cy="269.50" r="2.0" fill="#aa0132"/>
<circle cx="272.00" cy="272.00" r="2.0" fill="#aa0132"/>
<circle cx="275.00" cy="272.50" r="2.0" fill="#aa0132"/>
<circle cx="277.50" cy="271.50" r="2.0" fill="#aa0132"/>
<circle cx="271.50" cy="274.50" r="2.0" fill="#aa0132"/>
<circle cx="274.00" cy="275.00" r="2.0" fill="#aa0132"/>
<circle cx="277.00" cy="274.80" r="2.0" fill="#aa0132"/>
<circle cx="288.60" cy="228.70" r="2.0" fill="#213f80"/>
<circle cx="285.70" cy="236.80" r="2.0" fill="#213f80"/>
<circle cx="289.30" cy="239.00" r="2.0" fill="#213f80"/>
<circle cx="289.00" cy="248.40" r="2.0" fill="#213f80"/>
<circle cx="287.20" cy="258.00" r="2.0" fill="#213f80"/>
<circle cx="289.90" cy="258.00" r="2.0" fill="#213f80"/>
<circle cx="289.00" cy="264.00" r="2.0" fill="#213f80"/>
<circle cx="289.00" cy="269.40" r="2.0" fill="#213f80"/>
<circle cx="286.30" cy="274.30" r="2.0" fill="#213f80"/>
<circle cx="291.70" cy="273.80" r="2.0" fill="#213f80"/>
<circle cx="300.80" cy="234.10" r="2.0" fill="#5cab3c"/>
<circle cx="303.50" cy="238.10" r="2.0" fill="#5cab3c"/>
<circle cx="303.10" cy="253.80" r="2.0" fill="#5cab3c"/>
<circle cx="300.80" cy="259.80" r="2.0" fill="#5cab3c"/>
<circle cx="305.30" cy="263.40" r="2.0" fill="#5cab3c"/>
<circle cx="300.80" cy="264.00" r="2.0" fill="#5cab3c"/>
<circle cx="303.50" cy="268.90" r="2.0" fill="#5cab3c"/>
<circle cx="300.80" cy="269.50" r="2.0" fill="#5cab3c"/>
<circle cx="305.50" cy="269.50" r="2.0" fill="#5cab3c"/>
<circle cx="301.30" cy="274.30" r="2.0" fill="#5cab3c"/>
<circle cx="304.90" cy="274.30" r="2.0" fill="#5cab3c"/>
<circle cx="327.00" cy="178.70" r="2.0" fill="#aa0132"/>
<circle cx="329.50" cy="178.70" r="2.0" fill="#aa0132"/>
<circle cx="325.20" cy="181.20" r="2.0" fill="#aa0132"/>
<circle cx="328.70" cy="181.20" r="2.0" fill="#aa0132"/>
<circle cx="326.50" cy="183.00" r="2.0" fill="#aa0132"/>
<circle cx="327.30" cy="187.20" r="2.0" fill="#aa0132"/>
<circle cx="328.70" cy="189.80" r="2.0" fill="#aa0132"/>
<circle cx="327.00" cy="190.60" r="2.0" fill="#aa0132"/>
<circle cx="327.30" cy="215.00" r="2.0" fill="#aa0132"/>
<circle cx="338.90" cy="179.50" r="2.0" fill="#213f80"/>
<circle cx="344.90" cy="178.70" r="2.0" fill="#213f80"/>
<circle cx="342.00" cy="182.10" r="2.0" fill="#213f80"/>
<circle cx="342.00" cy="191.80" r="2.0" fill="#213f80"/>
<circle cx="338.90" cy="195.70" r="2.0" fill="#213f80"/>
<circle cx="344.90" cy="195.40" r="2.0" fill="#213f80"/>
<circle cx="342.00" cy="202.60" r="2.0" fill="#213f80"/>
<circle cx="340.30" cy="214.20" r="2.0" fill="#213f80"/>
<circle cx="343.20" cy="217.60" r="2.0" fill="#213f80"/>
<circle cx="342.00" cy="225.60" r="2.0" fill="#213f80"/>
<circle cx="356.00" cy="178.70" r="2.0" fill="#5cab3c"/>
<circle cx="359.10" cy="182.90" r="2.0" fill="#5cab3c"/>
<circle cx="353.90" cy="185.80" r="2.0" fill="#5cab3c"/>
<circle cx="356.80" cy="185.80" r="2.0" fill="#5cab3c"/>
<circle cx="353.90" cy="191.50" r="2.0" fill="#5cab3c"/>
<circle cx="359.10" cy="190.60" r="2.0" fill="#5cab3c"/>
<circle cx="356.30" cy="194.90" r="2.0" fill="#5cab3c"/>
<circle cx="356.00" cy="200.90" r="2.0" fill="#5cab3c"/>
<circle cx="356.00" cy="215.90" r="2.0" fill="#5cab3c"/>
<circle cx="356.00" cy="220.50" r="2.0" fill="#5cab3c"/>
<text x="375.30" y="167.50" font-size="11.4" text-anchor="start" font-weight="bold" style="stroke:#000;stroke-width:0.45px">G</text>
<line x1="412.30" y1="173.80" x2="412.30" y2="277.55" stroke="#231f20" stroke-width="1.3"/>
<line x1="409.20" y1="175.55" x2="412.30" y2="175.55" stroke="#231f20" stroke-width="1.0"/>
<text x="405.90" y="178.19" font-size="8.5" text-anchor="end" font-weight="normal" textLength="12.76" lengthAdjust="spacingAndGlyphs">100</text>
<line x1="409.20" y1="195.90" x2="412.30" y2="195.90" stroke="#231f20" stroke-width="1.0"/>
<text x="405.90" y="198.53" font-size="8.5" text-anchor="end" font-weight="normal" textLength="8.51" lengthAdjust="spacingAndGlyphs">80</text>
<line x1="409.20" y1="216.25" x2="412.30" y2="216.25" stroke="#231f20" stroke-width="1.0"/>
<text x="405.90" y="218.88" font-size="8.5" text-anchor="end" font-weight="normal" textLength="8.51" lengthAdjust="spacingAndGlyphs">60</text>
<line x1="409.20" y1="236.60" x2="412.30" y2="236.60" stroke="#231f20" stroke-width="1.0"/>
<text x="405.90" y="239.24" font-size="8.5" text-anchor="end" font-weight="normal" textLength="8.51" lengthAdjust="spacingAndGlyphs">40</text>
<line x1="409.20" y1="256.95" x2="412.30" y2="256.95" stroke="#231f20" stroke-width="1.0"/>
<text x="405.90" y="259.58" font-size="8.5" text-anchor="end" font-weight="normal" textLength="8.51" lengthAdjust="spacingAndGlyphs">20</text>
<line x1="409.20" y1="277.30" x2="412.30" y2="277.30" stroke="#231f20" stroke-width="1.0"/>
<text x="405.90" y="279.94" font-size="8.5" text-anchor="end" font-weight="normal" textLength="4.25" lengthAdjust="spacingAndGlyphs">0</text>
<text transform="translate(385.79,224.70) rotate(-90)" x="0" y="0" font-size="8.3" text-anchor="middle" textLength="38.40" lengthAdjust="spacingAndGlyphs">% of B cells</text>
<rect x="416.00" y="272.00" width="8.60" height="5.00" fill="#c3c1c7"/>
<rect x="429.50" y="267.00" width="8.60" height="10.00" fill="#c3c1c7"/>
<rect x="452.10" y="205.70" width="7.40" height="71.30" fill="#c3c1c7"/>
<rect x="465.10" y="196.70" width="7.40" height="80.30" fill="#c3c1c7"/>
<rect x="487.10" y="263.40" width="7.40" height="13.60" fill="#c3c1c7"/>
<rect x="500.60" y="273.00" width="7.40" height="4.00" fill="#c3c1c7"/>
<line x1="411.70" y1="277.00" x2="512.90" y2="277.00" stroke="#231f20" stroke-width="1.3"/>
<line x1="428.30" y1="277.00" x2="428.30" y2="280.00" stroke="#231f20" stroke-width="1.0"/>
<line x1="461.90" y1="277.00" x2="461.90" y2="280.00" stroke="#231f20" stroke-width="1.0"/>
<line x1="497.00" y1="277.00" x2="497.00" y2="280.00" stroke="#231f20" stroke-width="1.0"/>
<text x="427.70" y="291.10" font-size="8.4" text-anchor="middle" font-weight="normal" textLength="40.40" lengthAdjust="spacingAndGlyphs">transitional</text>
<text x="464.70" y="291.10" font-size="8.4" text-anchor="middle" font-weight="normal" textLength="18.90" lengthAdjust="spacingAndGlyphs">naive</text>
<text x="497.50" y="291.10" font-size="8.4" text-anchor="middle" font-weight="normal" textLength="30.70" lengthAdjust="spacingAndGlyphs">memory</text>
<line x1="488.40" y1="240.10" x2="507.50" y2="240.10" stroke="#231f20" stroke-width="1.15"/>
<text x="494.41" y="239.68" font-size="7.3" text-anchor="start" font-weight="bold" letter-spacing="0.9" style="stroke-width:0.3px">**</text>
<circle cx="420.90" cy="265.30" r="2.0" fill="#aa0132"/>
<circle cx="419.00" cy="268.00" r="2.0" fill="#aa0132"/>
<circle cx="422.50" cy="268.50" r="2.0" fill="#aa0132"/>
<circle cx="420.00" cy="270.50" r="2.0" fill="#aa0132"/>
<circle cx="418.00" cy="272.00" r="2.0" fill="#aa0132"/>
<circle cx="422.00" cy="272.50" r="2.0" fill="#aa0132"/>
<circle cx="420.50" cy="274.00" r="2.0" fill="#aa0132"/>
<circle cx="418.50" cy="275.00" r="2.0" fill="#aa0132"/>
<circle cx="423.00" cy="275.00" r="2.0" fill="#aa0132"/>
<circle cx="420.50" cy="275.50" r="2.0" fill="#aa0132"/>
<circle cx="433.20" cy="250.60" r="2.0" fill="#5cab3c"/>
<circle cx="435.00" cy="250.30" r="2.0" fill="#5cab3c"/>
<circle cx="435.70" cy="265.80" r="2.0" fill="#5cab3c"/>
<circle cx="432.00" cy="267.80" r="2.0" fill="#5cab3c"/>
<circle cx="436.00" cy="268.50" r="2.0" fill="#5cab3c"/>
<circle cx="431.50" cy="273.20" r="2.0" fill="#5cab3c"/>
<circle cx="435.00" cy="273.00" r="2.0" fill="#5cab3c"/>
<circle cx="433.50" cy="275.00" r="2.0" fill="#5cab3c"/>
<circle cx="453.60" cy="196.70" r="2.0" fill="#aa0132"/>
<circle cx="457.00" cy="197.70" r="2.0" fill="#aa0132"/>
<circle cx="459.40" cy="199.60" r="2.0" fill="#aa0132"/>
<circle cx="453.60" cy="202.10" r="2.0" fill="#aa0132"/>
<circle cx="457.00" cy="203.30" r="2.0" fill="#aa0132"/>
<circle cx="459.40" cy="204.50" r="2.0" fill="#aa0132"/>
<circle cx="456.00" cy="214.30" r="2.0" fill="#aa0132"/>
<circle cx="456.00" cy="218.70" r="2.0" fill="#aa0132"/>
<circle cx="468.30" cy="184.40" r="2.0" fill="#5cab3c"/>
<circle cx="470.00" cy="186.90" r="2.0" fill="#5cab3c"/>
<circle cx="466.30" cy="191.00" r="2.0" fill="#5cab3c"/>
<circle cx="471.20" cy="191.00" r="2.0" fill="#5cab3c"/>
<circle cx="468.30" cy="194.20" r="2.0" fill="#5cab3c"/>
<circle cx="467.50" cy="208.20" r="2.0" fill="#5cab3c"/>
<circle cx="471.20" cy="208.20" r="2.0" fill="#5cab3c"/>
<circle cx="469.20" cy="215.60" r="2.0" fill="#5cab3c"/>
<circle cx="490.80" cy="245.70" r="2.0" fill="#aa0132"/>
<circle cx="490.80" cy="251.60" r="2.0" fill="#aa0132"/>
<circle cx="489.60" cy="257.20" r="2.0" fill="#aa0132"/>
<circle cx="493.30" cy="259.00" r="2.0" fill="#aa0132"/>
<circle cx="488.40" cy="262.10" r="2.0" fill="#aa0132"/>
<circle cx="492.00" cy="263.40" r="2.0" fill="#aa0132"/>
<circle cx="490.50" cy="261.00" r="2.0" fill="#aa0132"/>
<circle cx="504.30" cy="261.40" r="2.0" fill="#5cab3c"/>
<circle cx="504.30" cy="265.30" r="2.0" fill="#5cab3c"/>
<circle cx="501.90" cy="270.70" r="2.0" fill="#5cab3c"/>
<circle cx="506.00" cy="272.70" r="2.0" fill="#5cab3c"/>
<circle cx="503.50" cy="273.50" r="2.0" fill="#5cab3c"/>
<circle cx="501.50" cy="274.50" r="2.0" fill="#5cab3c"/>
<circle cx="505.50" cy="275.00" r="2.0" fill="#5cab3c"/>
<text x="7.60" y="317.60" font-size="11.4" text-anchor="start" font-weight="bold" style="stroke:#000;stroke-width:0.45px">H</text>
<line x1="47.80" y1="325.00" x2="47.80" y2="429.25" stroke="#231f20" stroke-width="1.3"/>
<line x1="44.70" y1="327.30" x2="47.80" y2="327.30" stroke="#231f20" stroke-width="1.0"/>
<text x="41.80" y="329.93" font-size="8.5" text-anchor="end" font-weight="normal" textLength="12.76" lengthAdjust="spacingAndGlyphs">100</text>
<line x1="44.70" y1="347.58" x2="47.80" y2="347.58" stroke="#231f20" stroke-width="1.0"/>
<text x="41.80" y="350.21" font-size="8.5" text-anchor="end" font-weight="normal" textLength="8.51" lengthAdjust="spacingAndGlyphs">80</text>
<line x1="44.70" y1="367.86" x2="47.80" y2="367.86" stroke="#231f20" stroke-width="1.0"/>
<text x="41.80" y="370.50" font-size="8.5" text-anchor="end" font-weight="normal" textLength="8.51" lengthAdjust="spacingAndGlyphs">60</text>
<line x1="44.70" y1="388.14" x2="47.80" y2="388.14" stroke="#231f20" stroke-width="1.0"/>
<text x="41.80" y="390.77" font-size="8.5" text-anchor="end" font-weight="normal" textLength="8.51" lengthAdjust="spacingAndGlyphs">40</text>
<line x1="44.70" y1="408.42" x2="47.80" y2="408.42" stroke="#231f20" stroke-width="1.0"/>
<text x="41.80" y="411.05" font-size="8.5" text-anchor="end" font-weight="normal" textLength="8.51" lengthAdjust="spacingAndGlyphs">20</text>
<line x1="44.70" y1="428.70" x2="47.80" y2="428.70" stroke="#231f20" stroke-width="1.0"/>
<text x="41.80" y="431.33" font-size="8.5" text-anchor="end" font-weight="normal" textLength="4.25" lengthAdjust="spacingAndGlyphs">0</text>
<text transform="translate(22.19,378.00) rotate(-90)" x="0" y="0" font-size="8.3" text-anchor="middle" textLength="58.50" lengthAdjust="spacingAndGlyphs">% of CD4<tspan dy='-3' font-size='6.4'>+</tspan><tspan dy='3'> T cells</tspan></text>
<rect x="52.70" y="393.00" width="7.20" height="35.70" fill="#c3c1c7"/>
<rect x="65.00" y="376.40" width="7.20" height="52.30" fill="#c3c1c7"/>
<rect x="77.30" y="364.60" width="7.20" height="64.10" fill="#c3c1c7"/>
<rect x="97.80" y="396.00" width="7.20" height="32.70" fill="#c3c1c7"/>
<rect x="110.10" y="404.50" width="7.20" height="24.20" fill="#c3c1c7"/>
<rect x="122.40" y="407.40" width="7.20" height="21.30" fill="#c3c1c7"/>
<rect x="142.90" y="405.40" width="7.20" height="23.30" fill="#c3c1c7"/>
<rect x="155.20" y="402.90" width="7.20" height="25.80" fill="#c3c1c7"/>
<rect x="167.50" y="413.60" width="7.20" height="15.10" fill="#c3c1c7"/>
<rect x="187.90" y="424.50" width="7.20" height="4.20" fill="#c3c1c7"/>
<rect x="200.20" y="424.00" width="7.20" height="4.70" fill="#c3c1c7"/>
<rect x="212.50" y="425.50" width="7.20" height="3.20" fill="#c3c1c7"/>
<line x1="47.20" y1="428.70" x2="224.50" y2="428.70" stroke="#231f20" stroke-width="1.3"/>
<line x1="68.60" y1="428.70" x2="68.60" y2="431.70" stroke="#231f20" stroke-width="1.0"/>
<line x1="113.70" y1="428.70" x2="113.70" y2="431.70" stroke="#231f20" stroke-width="1.0"/>
<line x1="158.80" y1="428.70" x2="158.80" y2="431.70" stroke="#231f20" stroke-width="1.0"/>
<line x1="203.80" y1="428.70" x2="203.80" y2="431.70" stroke="#231f20" stroke-width="1.0"/>
<text x="68.30" y="442.40" font-size="8.4" text-anchor="middle" font-weight="normal" textLength="19.20" lengthAdjust="spacingAndGlyphs">naive</text>
<text x="106.00" y="442.60" font-size="8.9">T<tspan dy="2.0" font-size="6">CM</tspan></text>
<text x="151.60" y="442.60" font-size="8.9">T<tspan dy="2.0" font-size="6">EM</tspan></text>
<text x="193.20" y="442.60" font-size="8.9">T<tspan dy="2.0" font-size="6">EMRA</tspan></text>
<line x1="52.90" y1="335.50" x2="80.70" y2="335.50" stroke="#231f20" stroke-width="1.15"/>
<text x="59.57" y="333.18" font-size="7.3" text-anchor="start" font-weight="bold" letter-spacing="0.9" style="stroke-width:0.3px">****</text>
<line x1="53.20" y1="344.70" x2="67.40" y2="344.70" stroke="#231f20" stroke-width="1.15"/>
<text x="58.68" y="343.88" font-size="7.3" text-anchor="start" font-weight="bold" letter-spacing="0.9" style="stroke-width:0.3px">*</text>
<line x1="99.80" y1="355.10" x2="128.00" y2="355.10" stroke="#231f20" stroke-width="1.15"/>
<text x="110.11" y="354.88" font-size="7.3" text-anchor="start" font-weight="bold" letter-spacing="0.9" style="stroke-width:0.3px">**</text>
<line x1="100.50" y1="365.20" x2="114.60" y2="365.20" stroke="#231f20" stroke-width="1.15"/>
<text x="104.31" y="364.28" font-size="7.3" text-anchor="start" font-weight="bold" letter-spacing="0.9" style="stroke-width:0.3px">**</text>
<circle cx="56.00" cy="354.10" r="2.0" fill="#aa0132"/>
<circle cx="56.00" cy="374.00" r="2.0" fill="#aa0132"/>
<circle cx="53.90" cy="377.20" r="2.0" fill="#aa0132"/>
<circle cx="58.10" cy="377.20" r="2.0" fill="#aa0132"/>
<circle cx="56.00" cy="378.00" r="2.0" fill="#aa0132"/>
<circle cx="54.00" cy="380.50" r="2.0" fill="#aa0132"/>
<circle cx="57.50" cy="381.00" r="2.0" fill="#aa0132"/>
<circle cx="55.00" cy="383.00" r="2.0" fill="#aa0132"/>
<circle cx="58.00" cy="384.00" r="2.0" fill="#aa0132"/>
<circle cx="53.50" cy="385.50" r="2.0" fill="#aa0132"/>
<circle cx="56.50" cy="386.00" r="2.0" fill="#aa0132"/>
<circle cx="54.50" cy="388.00" r="2.0" fill="#aa0132"/>
<circle cx="58.00" cy="388.50" r="2.0" fill="#aa0132"/>
<circle cx="56.00" cy="390.00" r="2.0" fill="#aa0132"/>
<circle cx="54.40" cy="392.10" r="2.0" fill="#aa0132"/>
<circle cx="57.60" cy="392.10" r="2.0" fill="#aa0132"/>
<circle cx="55.50" cy="394.80" r="2.0" fill="#aa0132"/>
<circle cx="54.90" cy="397.50" r="2.0" fill="#aa0132"/>
<circle cx="57.10" cy="398.00" r="2.0" fill="#aa0132"/>
<circle cx="56.00" cy="400.10" r="2.0" fill="#aa0132"/>
<circle cx="54.90" cy="402.80" r="2.0" fill="#aa0132"/>
<circle cx="57.10" cy="403.80" r="2.0" fill="#aa0132"/>
<circle cx="55.50" cy="406.00" r="2.0" fill="#aa0132"/>
<circle cx="55.70" cy="410.80" r="2.0" fill="#aa0132"/>
<circle cx="66.50" cy="355.10" r="2.0" fill="#213f80"/>
<circle cx="70.80" cy="352.10" r="2.0" fill="#213f80"/>
<circle cx="66.50" cy="363.30" r="2.0" fill="#213f80"/>
<circle cx="70.80" cy="363.30" r="2.0" fill="#213f80"/>
<circle cx="68.50" cy="368.40" r="2.0" fill="#213f80"/>
<circle cx="68.10" cy="377.30" r="2.0" fill="#213f80"/>
<circle cx="68.10" cy="384.50" r="2.0" fill="#213f80"/>
<circle cx="68.10" cy="390.50" r="2.0" fill="#213f80"/>
<circle cx="68.10" cy="395.10" r="2.0" fill="#213f80"/>
<circle cx="68.10" cy="417.00" r="2.0" fill="#213f80"/>
<circle cx="81.70" cy="346.30" r="2.0" fill="#5cab3c"/>
<circle cx="80.20" cy="348.20" r="2.0" fill="#5cab3c"/>
<circle cx="78.70" cy="354.20" r="2.0" fill="#5cab3c"/>
<circle cx="83.20" cy="354.90" r="2.0" fill="#5cab3c"/>
<circle cx="81.00" cy="357.90" r="2.0" fill="#5cab3c"/>
<circle cx="82.40" cy="363.90" r="2.0" fill="#5cab3c"/>
<circle cx="81.30" cy="366.60" r="2.0" fill="#5cab3c"/>
<circle cx="82.40" cy="369.10" r="2.0" fill="#5cab3c"/>
<circle cx="81.00" cy="371.30" r="2.0" fill="#5cab3c"/>
<circle cx="80.70" cy="375.80" r="2.0" fill="#5cab3c"/>
<circle cx="81.00" cy="401.20" r="2.0" fill="#5cab3c"/>
<circle cx="101.00" cy="371.40" r="2.0" fill="#aa0132"/>
<circle cx="101.00" cy="373.90" r="2.0" fill="#aa0132"/>
<circle cx="101.00" cy="376.20" r="2.0" fill="#aa0132"/>
<circle cx="101.20" cy="378.80" r="2.0" fill="#aa0132"/>
<circle cx="100.30" cy="381.30" r="2.0" fill="#aa0132"/>
<circle cx="102.00" cy="383.30" r="2.0" fill="#aa0132"/>
<circle cx="100.30" cy="385.20" r="2.0" fill="#aa0132"/>
<circle cx="102.20" cy="385.80" r="2.0" fill="#aa0132"/>
<circle cx="101.00" cy="388.40" r="2.0" fill="#aa0132"/>
<circle cx="99.70" cy="392.90" r="2.0" fill="#aa0132"/>
<circle cx="102.90" cy="393.50" r="2.0" fill="#aa0132"/>
<circle cx="101.00" cy="395.40" r="2.0" fill="#aa0132"/>
<circle cx="102.20" cy="398.60" r="2.0" fill="#aa0132"/>
<circle cx="99.70" cy="402.40" r="2.0" fill="#aa0132"/>
<circle cx="103.30" cy="402.40" r="2.0" fill="#aa0132"/>
<circle cx="101.20" cy="404.40" r="2.0" fill="#aa0132"/>
<circle cx="101.20" cy="413.30" r="2.0" fill="#aa0132"/>
<circle cx="102.20" cy="415.20" r="2.0" fill="#aa0132"/>
<circle cx="100.30" cy="418.40" r="2.0" fill="#aa0132"/>
<circle cx="101.20" cy="420.30" r="2.0" fill="#aa0132"/>
<circle cx="113.40" cy="399.60" r="2.0" fill="#213f80"/>
<circle cx="111.60" cy="405.50" r="2.0" fill="#213f80"/>
<circle cx="114.60" cy="405.00" r="2.0" fill="#213f80"/>
<circle cx="111.60" cy="410.90" r="2.0" fill="#213f80"/>
<circle cx="113.40" cy="412.00" r="2.0" fill="#213f80"/>
<circle cx="115.80" cy="413.20" r="2.0" fill="#213f80"/>
<circle cx="113.40" cy="422.60" r="2.0" fill="#213f80"/>
<circle cx="125.60" cy="385.60" r="2.0" fill="#5cab3c"/>
<circle cx="125.60" cy="400.80" r="2.0" fill="#5cab3c"/>
<circle cx="126.30" cy="405.50" r="2.0" fill="#5cab3c"/>
<circle cx="124.00" cy="407.80" r="2.0" fill="#5cab3c"/>
<circle cx="128.00" cy="410.20" r="2.0" fill="#5cab3c"/>
<circle cx="124.00" cy="413.20" r="2.0" fill="#5cab3c"/>
<circle cx="125.60" cy="415.60" r="2.0" fill="#5cab3c"/>
<circle cx="124.00" cy="418.60" r="2.0" fill="#5cab3c"/>
<circle cx="127.50" cy="418.60" r="2.0" fill="#5cab3c"/>
<circle cx="146.10" cy="381.20" r="2.0" fill="#aa0132"/>
<circle cx="146.30" cy="383.50" r="2.0" fill="#aa0132"/>
<circle cx="147.20" cy="385.80" r="2.0" fill="#aa0132"/>
<circle cx="146.10" cy="387.50" r="2.0" fill="#aa0132"/>
<circle cx="145.20" cy="393.30" r="2.0" fill="#aa0132"/>
<circle cx="147.80" cy="393.50" r="2.0" fill="#aa0132"/>
<circle cx="146.30" cy="395.60" r="2.0" fill="#aa0132"/>
<circle cx="145.20" cy="400.80" r="2.0" fill="#aa0132"/>
<circle cx="146.70" cy="402.00" r="2.0" fill="#aa0132"/>
<circle cx="146.10" cy="404.30" r="2.0" fill="#aa0132"/>
<circle cx="146.30" cy="406.60" r="2.0" fill="#aa0132"/>
<circle cx="144.30" cy="412.30" r="2.0" fill="#aa0132"/>
<circle cx="147.80" cy="412.00" r="2.0" fill="#aa0132"/>
<circle cx="146.10" cy="412.90" r="2.0" fill="#aa0132"/>
<circle cx="145.20" cy="415.80" r="2.0" fill="#aa0132"/>
<circle cx="147.80" cy="415.80" r="2.0" fill="#aa0132"/>
<circle cx="146.10" cy="418.10" r="2.0" fill="#aa0132"/>
<circle cx="146.30" cy="420.40" r="2.0" fill="#aa0132"/>
<circle cx="145.50" cy="423.30" r="2.0" fill="#aa0132"/>
<circle cx="158.90" cy="358.10" r="2.0" fill="#213f80"/>
<circle cx="158.90" cy="380.50" r="2.0" fill="#213f80"/>
<circle cx="156.30" cy="394.00" r="2.0" fill="#213f80"/>
<circle cx="161.00" cy="393.30" r="2.0" fill="#213f80"/>
<circle cx="161.00" cy="409.30" r="2.0" fill="#213f80"/>
<circle cx="156.70" cy="412.50" r="2.0" fill="#213f80"/>
<circle cx="161.00" cy="415.70" r="2.0" fill="#213f80"/>
<circle cx="156.70" cy="417.80" r="2.0" fill="#213f80"/>
<circle cx="161.00" cy="421.00" r="2.0" fill="#213f80"/>
<circle cx="156.70" cy="422.70" r="2.0" fill="#213f80"/>
<circle cx="170.80" cy="400.80" r="2.0" fill="#5cab3c"/>
<circle cx="170.80" cy="405.00" r="2.0" fill="#5cab3c"/>
<circle cx="169.10" cy="413.60" r="2.0" fill="#5cab3c"/>
<circle cx="173.40" cy="414.60" r="2.0" fill="#5cab3c"/>
<circle cx="169.10" cy="417.80" r="2.0" fill="#5cab3c"/>
<circle cx="173.40" cy="421.00" r="2.0" fill="#5cab3c"/>
<circle cx="169.10" cy="423.20" r="2.0" fill="#5cab3c"/>
<circle cx="191.50" cy="415.40" r="2.0" fill="#aa0132"/>
<circle cx="191.50" cy="417.30" r="2.0" fill="#aa0132"/>
<circle cx="191.30" cy="421.50" r="2.0" fill="#aa0132"/>
<circle cx="192.10" cy="423.10" r="2.0" fill="#aa0132"/>
<circle cx="190.20" cy="425.40" r="2.0" fill="#aa0132"/>
<circle cx="193.20" cy="425.40" r="2.0" fill="#aa0132"/>
<circle cx="189.40" cy="427.30" r="2.0" fill="#aa0132"/>
<circle cx="191.70" cy="427.30" r="2.0" fill="#aa0132"/>
<circle cx="194.00" cy="427.30" r="2.0" fill="#aa0132"/>
<circle cx="191.70" cy="428.50" r="2.0" fill="#aa0132"/>
<circle cx="204.00" cy="406.00" r="2.0" fill="#213f80"/>
<circle cx="204.00" cy="423.80" r="2.0" fill="#213f80"/>
<circle cx="202.50" cy="425.80" r="2.0" fill="#213f80"/>
<circle cx="205.20" cy="426.20" r="2.0" fill="#213f80"/>
<circle cx="201.30" cy="427.70" r="2.0" fill="#213f80"/>
<circle cx="203.60" cy="428.10" r="2.0" fill="#213f80"/>
<circle cx="206.30" cy="427.70" r="2.0" fill="#213f80"/>
<circle cx="214.80" cy="424.60" r="2.0" fill="#5cab3c"/>
<circle cx="216.30" cy="426.20" r="2.0" fill="#5cab3c"/>
<circle cx="213.60" cy="427.30" r="2.0" fill="#5cab3c"/>
<circle cx="218.20" cy="427.30" r="2.0" fill="#5cab3c"/>
<circle cx="215.50" cy="428.10" r="2.0" fill="#5cab3c"/>
<text x="240.60" y="317.60" font-size="11.4" text-anchor="start" font-weight="bold" style="stroke:#000;stroke-width:0.45px">I</text>
<line x1="275.80" y1="325.00" x2="275.80" y2="429.45" stroke="#231f20" stroke-width="1.3"/>
<line x1="272.70" y1="327.30" x2="275.80" y2="327.30" stroke="#231f20" stroke-width="1.0"/>
<text x="269.60" y="329.93" font-size="8.5" text-anchor="end" font-weight="normal" textLength="12.76" lengthAdjust="spacingAndGlyphs">100</text>
<line x1="272.70" y1="347.62" x2="275.80" y2="347.62" stroke="#231f20" stroke-width="1.0"/>
<text x="269.60" y="350.25" font-size="8.5" text-anchor="end" font-weight="normal" textLength="8.51" lengthAdjust="spacingAndGlyphs">80</text>
<line x1="272.70" y1="367.94" x2="275.80" y2="367.94" stroke="#231f20" stroke-width="1.0"/>
<text x="269.60" y="370.57" font-size="8.5" text-anchor="end" font-weight="normal" textLength="8.51" lengthAdjust="spacingAndGlyphs">60</text>
<line x1="272.70" y1="388.26" x2="275.80" y2="388.26" stroke="#231f20" stroke-width="1.0"/>
<text x="269.60" y="390.89" font-size="8.5" text-anchor="end" font-weight="normal" textLength="8.51" lengthAdjust="spacingAndGlyphs">40</text>
<line x1="272.70" y1="408.58" x2="275.80" y2="408.58" stroke="#231f20" stroke-width="1.0"/>
<text x="269.60" y="411.21" font-size="8.5" text-anchor="end" font-weight="normal" textLength="8.51" lengthAdjust="spacingAndGlyphs">20</text>
<line x1="272.70" y1="428.90" x2="275.80" y2="428.90" stroke="#231f20" stroke-width="1.0"/>
<text x="269.60" y="431.53" font-size="8.5" text-anchor="end" font-weight="normal" textLength="4.25" lengthAdjust="spacingAndGlyphs">0</text>
<text transform="translate(254.69,376.40) rotate(-90)" x="0" y="0" font-size="8.3" text-anchor="middle" textLength="61.60" lengthAdjust="spacingAndGlyphs">% of CD8<tspan dy='-3' font-size='6.4'>+</tspan><tspan dy='3'> T cells</tspan></text>
<rect x="280.80" y="393.50" width="7.20" height="35.40" fill="#c3c1c7"/>
<rect x="293.10" y="403.20" width="7.20" height="25.70" fill="#c3c1c7"/>
<rect x="305.40" y="380.10" width="7.20" height="48.80" fill="#c3c1c7"/>
<rect x="325.80" y="418.50" width="7.20" height="10.40" fill="#c3c1c7"/>
<rect x="338.10" y="426.00" width="7.20" height="2.90" fill="#c3c1c7"/>
<rect x="350.40" y="424.00" width="7.20" height="4.90" fill="#c3c1c7"/>
<rect x="371.00" y="392.00" width="7.20" height="36.90" fill="#c3c1c7"/>
<rect x="383.30" y="385.20" width="7.20" height="43.70" fill="#c3c1c7"/>
<rect x="395.60" y="408.60" width="7.20" height="20.30" fill="#c3c1c7"/>
<rect x="416.10" y="410.00" width="7.20" height="18.90" fill="#c3c1c7"/>
<rect x="428.40" y="404.80" width="7.20" height="24.10" fill="#c3c1c7"/>
<rect x="440.70" y="407.00" width="7.20" height="21.90" fill="#c3c1c7"/>
<line x1="275.20" y1="428.90" x2="452.60" y2="428.90" stroke="#231f20" stroke-width="1.3"/>
<line x1="296.70" y1="428.90" x2="296.70" y2="431.90" stroke="#231f20" stroke-width="1.0"/>
<line x1="341.70" y1="428.90" x2="341.70" y2="431.90" stroke="#231f20" stroke-width="1.0"/>
<line x1="386.90" y1="428.90" x2="386.90" y2="431.90" stroke="#231f20" stroke-width="1.0"/>
<line x1="432.00" y1="428.90" x2="432.00" y2="431.90" stroke="#231f20" stroke-width="1.0"/>
<text x="296.50" y="442.40" font-size="8.4" text-anchor="middle" font-weight="normal" textLength="20.10" lengthAdjust="spacingAndGlyphs">Naive</text>
<text x="334.80" y="442.60" font-size="8.9">T<tspan dy="2.0" font-size="6">CM</tspan></text>
<text x="380.00" y="442.60" font-size="8.9">T<tspan dy="2.0" font-size="6">EM</tspan></text>
<text x="421.30" y="442.60" font-size="8.9">T<tspan dy="2.0" font-size="6">EMRA</tspan></text>
<line x1="280.10" y1="330.20" x2="307.90" y2="330.20" stroke="#231f20" stroke-width="1.15"/>
<text x="292.88" y="330.28" font-size="7.3" text-anchor="start" font-weight="bold" letter-spacing="0.9" style="stroke-width:0.3px">*</text>
<line x1="279.60" y1="339.60" x2="293.80" y2="339.60" stroke="#231f20" stroke-width="1.15"/>
<text x="284.98" y="339.28" font-size="7.3" text-anchor="start" font-weight="bold" letter-spacing="0.9" style="stroke-width:0.3px">*</text>
<line x1="296.30" y1="339.60" x2="310.30" y2="339.60" stroke="#231f20" stroke-width="1.15"/>
<text x="296.07" y="339.28" font-size="7.3" text-anchor="start" font-weight="bold" letter-spacing="0.9" style="stroke-width:0.3px">****</text>
<line x1="371.30" y1="351.60" x2="398.70" y2="351.60" stroke="#231f20" stroke-width="1.15"/>
<text x="383.68" y="350.68" font-size="7.3" text-anchor="start" font-weight="bold" letter-spacing="0.9" style="stroke-width:0.3px">*</text>
<line x1="372.20" y1="360.50" x2="387.00" y2="360.50" stroke="#231f20" stroke-width="1.15"/>
<text x="377.78" y="360.08" font-size="7.3" text-anchor="start" font-weight="bold" letter-spacing="0.9" style="stroke-width:0.3px">*</text>
<line x1="389.30" y1="360.50" x2="403.00" y2="360.50" stroke="#231f20" stroke-width="1.15"/>
<text x="389.37" y="360.08" font-size="7.3" text-anchor="start" font-weight="bold" letter-spacing="0.9" style="stroke-width:0.3px">****</text>
<circle cx="284.10" cy="368.20" r="2.0" fill="#aa0132"/>
<circle cx="284.60" cy="371.00" r="2.0" fill="#aa0132"/>
<circle cx="285.30" cy="373.90" r="2.0" fill="#aa0132"/>
<circle cx="283.80" cy="375.70" r="2.0" fill="#aa0132"/>
<circle cx="284.60" cy="377.50" r="2.0" fill="#aa0132"/>
<circle cx="284.40" cy="379.90" r="2.0" fill="#aa0132"/>
<circle cx="283.80" cy="384.10" r="2.0" fill="#aa0132"/>
<circle cx="282.00" cy="387.10" r="2.0" fill="#aa0132"/>
<circle cx="285.50" cy="387.10" r="2.0" fill="#aa0132"/>
<circle cx="287.30" cy="387.30" r="2.0" fill="#aa0132"/>
<circle cx="283.80" cy="387.70" r="2.0" fill="#aa0132"/>
<circle cx="284.40" cy="391.80" r="2.0" fill="#aa0132"/>
<circle cx="282.60" cy="393.60" r="2.0" fill="#aa0132"/>
<circle cx="286.10" cy="393.60" r="2.0" fill="#aa0132"/>
<circle cx="284.40" cy="395.40" r="2.0" fill="#aa0132"/>
<circle cx="283.20" cy="397.80" r="2.0" fill="#aa0132"/>
<circle cx="285.50" cy="398.40" r="2.0" fill="#aa0132"/>
<circle cx="284.40" cy="400.80" r="2.0" fill="#aa0132"/>
<circle cx="285.50" cy="403.20" r="2.0" fill="#aa0132"/>
<circle cx="283.20" cy="403.80" r="2.0" fill="#aa0132"/>
<circle cx="284.60" cy="406.20" r="2.0" fill="#aa0132"/>
<circle cx="285.30" cy="408.00" r="2.0" fill="#aa0132"/>
<circle cx="283.80" cy="409.70" r="2.0" fill="#aa0132"/>
<circle cx="283.40" cy="413.30" r="2.0" fill="#aa0132"/>
<circle cx="296.50" cy="372.00" r="2.0" fill="#213f80"/>
<circle cx="296.50" cy="386.50" r="2.0" fill="#213f80"/>
<circle cx="294.70" cy="393.80" r="2.0" fill="#213f80"/>
<circle cx="297.00" cy="396.30" r="2.0" fill="#213f80"/>
<circle cx="294.70" cy="404.00" r="2.0" fill="#213f80"/>
<circle cx="297.00" cy="405.70" r="2.0" fill="#213f80"/>
<circle cx="294.70" cy="410.90" r="2.0" fill="#213f80"/>
<circle cx="297.30" cy="413.80" r="2.0" fill="#213f80"/>
<circle cx="299.40" cy="413.20" r="2.0" fill="#213f80"/>
<circle cx="296.50" cy="428.30" r="2.0" fill="#213f80"/>
<circle cx="306.70" cy="375.00" r="2.0" fill="#5cab3c"/>
<circle cx="308.90" cy="377.00" r="2.0" fill="#5cab3c"/>
<circle cx="311.00" cy="379.60" r="2.0" fill="#5cab3c"/>
<circle cx="307.90" cy="381.80" r="2.0" fill="#5cab3c"/>
<circle cx="309.10" cy="349.80" r="2.0" fill="#5cab3c"/>
<circle cx="309.10" cy="356.00" r="2.0" fill="#5cab3c"/>
<circle cx="307.90" cy="357.70" r="2.0" fill="#5cab3c"/>
<circle cx="310.10" cy="414.60" r="2.0" fill="#5cab3c"/>
<circle cx="307.90" cy="418.00" r="2.0" fill="#5cab3c"/>
<circle cx="329.50" cy="399.40" r="2.0" fill="#aa0132"/>
<circle cx="329.30" cy="406.30" r="2.0" fill="#aa0132"/>
<circle cx="330.00" cy="408.50" r="2.0" fill="#aa0132"/>
<circle cx="328.60" cy="410.50" r="2.0" fill="#aa0132"/>
<circle cx="330.20" cy="412.50" r="2.0" fill="#aa0132"/>
<circle cx="328.80" cy="414.50" r="2.0" fill="#aa0132"/>
<circle cx="330.50" cy="416.00" r="2.0" fill="#aa0132"/>
<circle cx="327.50" cy="417.50" r="2.0" fill="#aa0132"/>
<circle cx="331.00" cy="418.00" r="2.0" fill="#aa0132"/>
<circle cx="329.00" cy="419.50" r="2.0" fill="#aa0132"/>
<circle cx="327.00" cy="421.00" r="2.0" fill="#aa0132"/>
<circle cx="331.50" cy="421.00" r="2.0" fill="#aa0132"/>
<circle cx="329.20" cy="422.50" r="2.0" fill="#aa0132"/>
<circle cx="328.00" cy="424.50" r="2.0" fill="#aa0132"/>
<circle cx="330.50" cy="424.50" r="2.0" fill="#aa0132"/>
<circle cx="329.00" cy="426.50" r="2.0" fill="#aa0132"/>
<circle cx="328.50" cy="428.30" r="2.0" fill="#aa0132"/>
<circle cx="341.60" cy="418.80" r="2.0" fill="#213f80"/>
<circle cx="340.20" cy="424.10" r="2.0" fill="#213f80"/>
<circle cx="339.40" cy="426.10" r="2.0" fill="#213f80"/>
<circle cx="341.80" cy="426.50" r="2.0" fill="#213f80"/>
<circle cx="343.80" cy="427.70" r="2.0" fill="#213f80"/>
<circle cx="340.60" cy="427.70" r="2.0" fill="#213f80"/>
<circle cx="353.90" cy="411.60" r="2.0" fill="#5cab3c"/>
<circle cx="353.90" cy="415.60" r="2.0" fill="#5cab3c"/>
<circle cx="353.90" cy="420.80" r="2.0" fill="#5cab3c"/>
<circle cx="352.30" cy="422.90" r="2.0" fill="#5cab3c"/>
<circle cx="355.50" cy="422.90" r="2.0" fill="#5cab3c"/>
<circle cx="351.50" cy="425.30" r="2.0" fill="#5cab3c"/>
<circle cx="356.30" cy="425.30" r="2.0" fill="#5cab3c"/>
<circle cx="353.90" cy="426.10" r="2.0" fill="#5cab3c"/>
<circle cx="372.60" cy="375.30" r="2.0" fill="#aa0132"/>
<circle cx="374.50" cy="376.60" r="2.0" fill="#aa0132"/>
<circle cx="376.10" cy="378.00" r="2.0" fill="#aa0132"/>
<circle cx="374.50" cy="379.10" r="2.0" fill="#aa0132"/>
<circle cx="373.70" cy="382.80" r="2.0" fill="#aa0132"/>
<circle cx="375.10" cy="384.90" r="2.0" fill="#aa0132"/>
<circle cx="373.70" cy="386.50" r="2.0" fill="#aa0132"/>
<circle cx="371.90" cy="392.40" r="2.0" fill="#aa0132"/>
<circle cx="374.50" cy="391.90" r="2.0" fill="#aa0132"/>
<circle cx="376.70" cy="392.90" r="2.0" fill="#aa0132"/>
<circle cx="373.70" cy="395.10" r="2.0" fill="#aa0132"/>
<circle cx="372.40" cy="398.80" r="2.0" fill="#aa0132"/>
<circle cx="375.10" cy="399.30" r="2.0" fill="#aa0132"/>
<circle cx="376.70" cy="400.90" r="2.0" fill="#aa0132"/>
<circle cx="373.70" cy="402.00" r="2.0" fill="#aa0132"/>
<circle cx="372.90" cy="405.20" r="2.0" fill="#aa0132"/>
<circle cx="375.10" cy="406.20" r="2.0" fill="#aa0132"/>
<circle cx="373.70" cy="407.80" r="2.0" fill="#aa0132"/>
<circle cx="374.50" cy="410.50" r="2.0" fill="#aa0132"/>
<circle cx="373.50" cy="412.60" r="2.0" fill="#aa0132"/>
<circle cx="373.70" cy="415.80" r="2.0" fill="#aa0132"/>
<circle cx="388.20" cy="366.40" r="2.0" fill="#213f80"/>
<circle cx="385.40" cy="368.00" r="2.0" fill="#213f80"/>
<circle cx="384.60" cy="374.10" r="2.0" fill="#213f80"/>
<circle cx="389.30" cy="378.10" r="2.0" fill="#213f80"/>
<circle cx="387.00" cy="379.80" r="2.0" fill="#213f80"/>
<circle cx="384.60" cy="389.90" r="2.0" fill="#213f80"/>
<circle cx="387.00" cy="391.00" r="2.0" fill="#213f80"/>
<circle cx="389.30" cy="391.50" r="2.0" fill="#213f80"/>
<circle cx="387.00" cy="400.00" r="2.0" fill="#213f80"/>
<circle cx="387.00" cy="406.30" r="2.0" fill="#213f80"/>
<circle cx="399.40" cy="385.60" r="2.0" fill="#5cab3c"/>
<circle cx="401.80" cy="394.60" r="2.0" fill="#5cab3c"/>
<circle cx="398.70" cy="398.00" r="2.0" fill="#5cab3c"/>
<circle cx="401.80" cy="407.50" r="2.0" fill="#5cab3c"/>
<circle cx="397.10" cy="411.00" r="2.0" fill="#5cab3c"/>
<circle cx="400.40" cy="412.20" r="2.0" fill="#5cab3c"/>
<circle cx="397.60" cy="414.50" r="2.0" fill="#5cab3c"/>
<circle cx="401.80" cy="419.20" r="2.0" fill="#5cab3c"/>
<circle cx="398.70" cy="419.70" r="2.0" fill="#5cab3c"/>
<circle cx="419.50" cy="398.30" r="2.0" fill="#aa0132"/>
<circle cx="418.50" cy="400.50" r="2.0" fill="#aa0132"/>
<circle cx="421.00" cy="401.00" r="2.0" fill="#aa0132"/>
<circle cx="419.50" cy="403.00" r="2.0" fill="#aa0132"/>
<circle cx="418.00" cy="405.00" r="2.0" fill="#aa0132"/>
<circle cx="421.50" cy="405.50" r="2.0" fill="#aa0132"/>
<circle cx="419.50" cy="407.50" r="2.0" fill="#aa0132"/>
<circle cx="418.00" cy="409.50" r="2.0" fill="#aa0132"/>
<circle cx="421.00" cy="410.00" r="2.0" fill="#aa0132"/>
<circle cx="419.50" cy="412.00" r="2.0" fill="#aa0132"/>
<circle cx="418.50" cy="414.50" r="2.0" fill="#aa0132"/>
<circle cx="420.50" cy="415.00" r="2.0" fill="#aa0132"/>
<circle cx="419.50" cy="417.50" r="2.0" fill="#aa0132"/>
<circle cx="418.00" cy="425.40" r="2.0" fill="#aa0132"/>
<circle cx="421.00" cy="425.40" r="2.0" fill="#aa0132"/>
<circle cx="431.80" cy="383.30" r="2.0" fill="#213f80"/>
<circle cx="429.80" cy="390.40" r="2.0" fill="#213f80"/>
<circle cx="429.80" cy="395.60" r="2.0" fill="#213f80"/>
<circle cx="434.10" cy="393.60" r="2.0" fill="#213f80"/>
<circle cx="429.80" cy="408.80" r="2.0" fill="#213f80"/>
<circle cx="434.10" cy="406.70" r="2.0" fill="#213f80"/>
<circle cx="429.80" cy="413.10" r="2.0" fill="#213f80"/>
<circle cx="434.10" cy="411.50" r="2.0" fill="#213f80"/>
<circle cx="429.80" cy="421.90" r="2.0" fill="#213f80"/>
<circle cx="434.10" cy="419.80" r="2.0" fill="#213f80"/>
<circle cx="444.10" cy="376.40" r="2.0" fill="#5cab3c"/>
<circle cx="444.10" cy="388.80" r="2.0" fill="#5cab3c"/>
<circle cx="444.10" cy="399.10" r="2.0" fill="#5cab3c"/>
<circle cx="444.10" cy="403.20" r="2.0" fill="#5cab3c"/>
<circle cx="444.10" cy="408.30" r="2.0" fill="#5cab3c"/>
<circle cx="442.10" cy="417.10" r="2.0" fill="#5cab3c"/>
<circle cx="443.30" cy="420.30" r="2.0" fill="#5cab3c"/>
<circle cx="446.20" cy="421.90" r="2.0" fill="#5cab3c"/>
<circle cx="442.50" cy="424.30" r="2.0" fill="#5cab3c"/>
<circle cx="445.50" cy="424.80" r="2.0" fill="#5cab3c"/>
<circle cx="152.50" cy="457.60" r="2.0" fill="#aa0132"/>
<text x="157.90" y="460.20" font-size="8.4" text-anchor="start" font-weight="normal" textLength="51.70" lengthAdjust="spacingAndGlyphs">Healthy donors</text>
<circle cx="227.40" cy="457.10" r="2.0" fill="#213f80"/>
<text x="232.50" y="460.20" font-size="8.4" text-anchor="start" font-weight="normal" textLength="55.80" lengthAdjust="spacingAndGlyphs">CD27 deficiency</text>
<circle cx="308.10" cy="457.10" r="2.0" fill="#5cab3c"/>
<text x="313.10" y="460.20" font-size="8.4" text-anchor="start" font-weight="normal" textLength="55.70" lengthAdjust="spacingAndGlyphs">CD70 deficiency</text>
<rect x="0.65" y="0.65" width="518.7" height="467.7" fill="none" stroke="#000" stroke-width="1.3"/>
</svg>
</body></html>
